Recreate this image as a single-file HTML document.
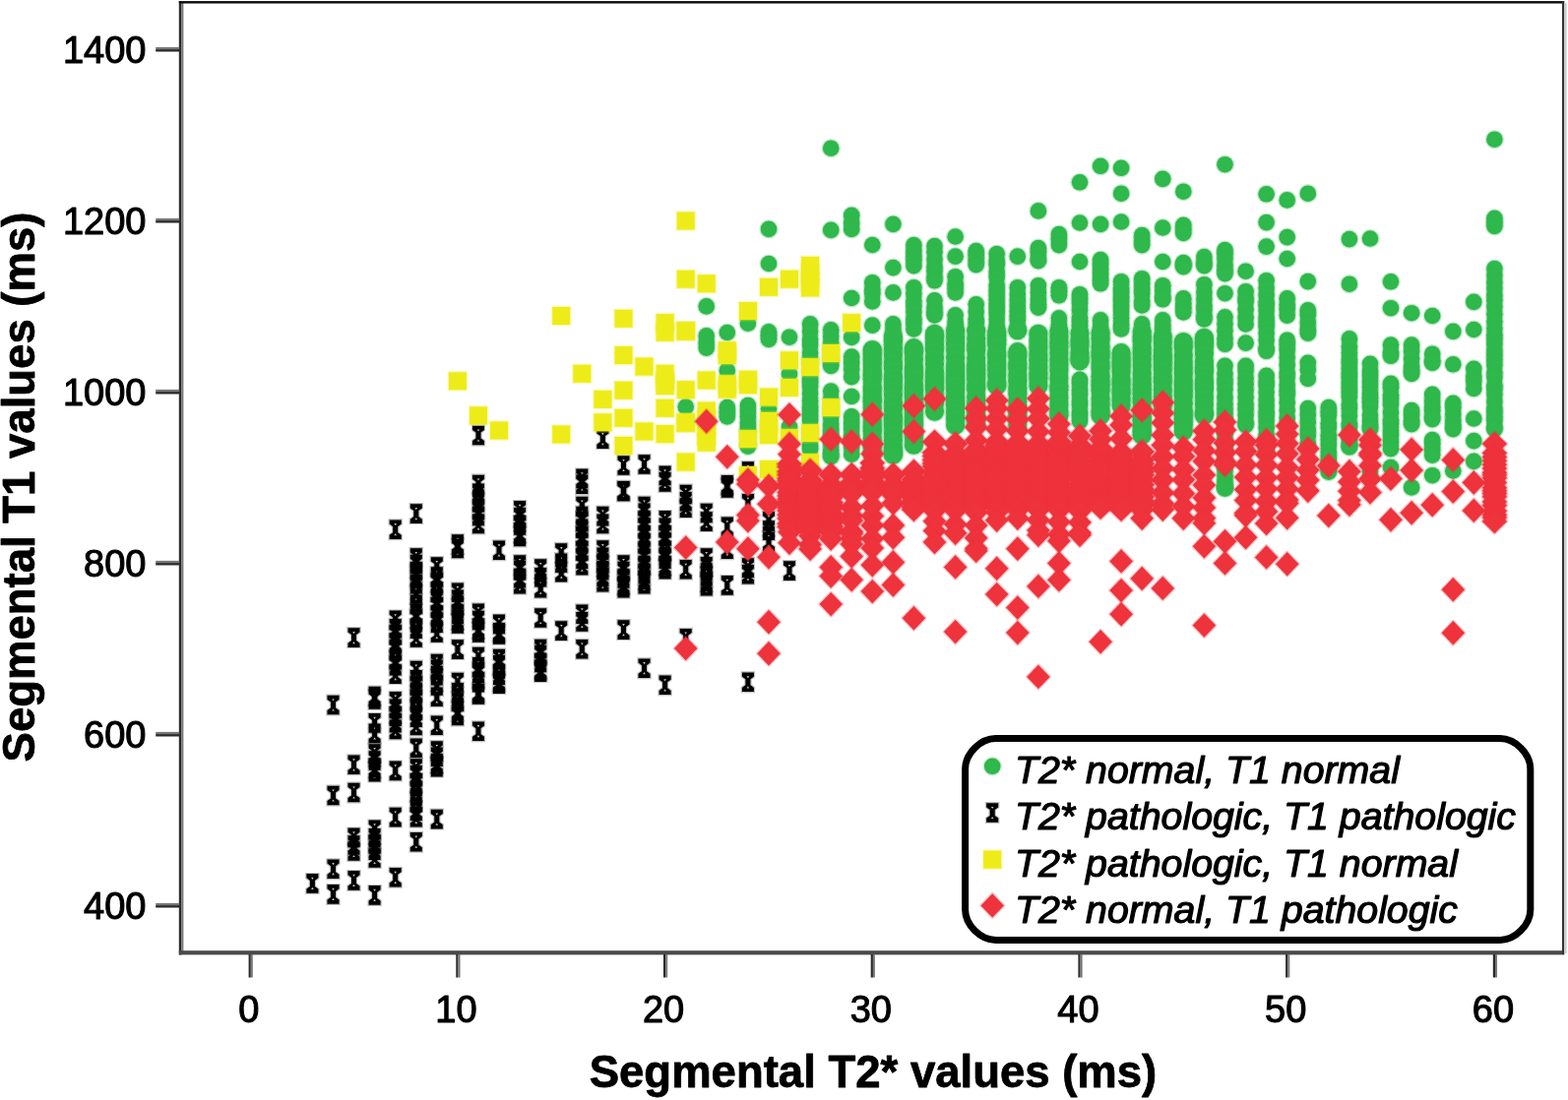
<!DOCTYPE html>
<html lang="en"><head><meta charset="utf-8"><title>Segmental T1 vs T2* values</title>
<style>html,body{margin:0;padding:0;background:#fff}body{width:1593px;height:1118px;overflow:hidden}svg{display:block}text{font-family:"Liberation Sans",Arial,Helvetica,sans-serif;fill:#000}text{stroke:#000;stroke-width:1.1px;stroke-linejoin:round}.tk{font-size:38px}.ax{font-size:45.5px;font-weight:bold;stroke-width:0.8px}.lg{font-size:39.3px;font-style:italic;stroke-width:1.2px}.g{fill:#2fb84b;stroke:#2fb84b}.y{fill:#eeec18;stroke:#eeec18}.r{fill:#ee333c;stroke:#ee333c}.g,.y,.r{stroke-width:2.6px;stroke-opacity:.3;stroke-linejoin:round}.k{fill:#000;fill-rule:evenodd;stroke:#000;stroke-width:2.4px;stroke-opacity:.25}</style></head><body>
<svg width="1593" height="1118" viewBox="0 0 1593 1118">
<rect width="1593" height="1118" fill="#fff"/>
<g class="g"><circle cx="696.7" cy="413.5" r="8.3"/><circle cx="717.7" cy="311.4" r="8.3"/><circle cx="717.7" cy="341.4" r="8.3"/><circle cx="717.7" cy="348.1" r="8.3"/><circle cx="717.7" cy="353.6" r="8.3"/><circle cx="738.8" cy="338" r="8.3"/><circle cx="738.8" cy="376.6" r="8.3"/><circle cx="738.8" cy="414" r="8.3"/><circle cx="738.8" cy="418.7" r="8.3"/><circle cx="738.8" cy="423.4" r="8.3"/><circle cx="759.9" cy="328.6" r="8.3"/><circle cx="759.9" cy="412.1" r="8.3"/><circle cx="759.9" cy="417.6" r="8.3"/><circle cx="759.9" cy="423.3" r="8.3"/><circle cx="759.9" cy="429.6" r="8.3"/><circle cx="759.9" cy="435" r="8.3"/><circle cx="759.9" cy="439.3" r="8.3"/><circle cx="759.9" cy="444.6" r="8.3"/><circle cx="759.9" cy="451.4" r="8.3"/><circle cx="759.9" cy="453.6" r="8.3"/><circle cx="781" cy="232.9" r="8.3"/><circle cx="781" cy="268" r="8.3"/><circle cx="781" cy="337.4" r="8.3"/><circle cx="781" cy="341.1" r="8.3"/><circle cx="781" cy="344.9" r="8.3"/><circle cx="781" cy="415.5" r="8.3"/><circle cx="802" cy="342.7" r="8.3"/><circle cx="802" cy="380" r="8.3"/><circle cx="802" cy="433.8" r="8.3"/><circle cx="823.1" cy="329.4" r="8.3"/><circle cx="823.1" cy="337.1" r="8.3"/><circle cx="823.1" cy="344.7" r="8.3"/><circle cx="823.1" cy="350.9" r="8.3"/><circle cx="823.1" cy="358.6" r="8.3"/><circle cx="823.1" cy="365.2" r="8.3"/><circle cx="823.1" cy="369.8" r="8.3"/><circle cx="823.1" cy="376.7" r="8.3"/><circle cx="823.1" cy="384.1" r="8.3"/><circle cx="823.1" cy="388.2" r="8.3"/><circle cx="823.1" cy="393" r="8.3"/><circle cx="823.1" cy="400.1" r="8.3"/><circle cx="823.1" cy="407.2" r="8.3"/><circle cx="823.1" cy="413.4" r="8.3"/><circle cx="823.1" cy="417.9" r="8.3"/><circle cx="823.1" cy="423" r="8.3"/><circle cx="823.1" cy="427.9" r="8.3"/><circle cx="823.1" cy="435.8" r="8.3"/><circle cx="823.1" cy="440.7" r="8.3"/><circle cx="823.1" cy="446.2" r="8.3"/><circle cx="823.1" cy="453" r="8.3"/><circle cx="823.1" cy="456.7" r="8.3"/><circle cx="844.2" cy="150.7" r="8.3"/><circle cx="844.2" cy="233.9" r="8.3"/><circle cx="844.2" cy="335.4" r="8.3"/><circle cx="844.2" cy="341.7" r="8.3"/><circle cx="844.2" cy="348.3" r="8.3"/><circle cx="844.2" cy="355.7" r="8.3"/><circle cx="844.2" cy="363.4" r="8.3"/><circle cx="844.2" cy="367.8" r="8.3"/><circle cx="844.2" cy="371.9" r="8.3"/><circle cx="844.2" cy="397.6" r="8.3"/><circle cx="844.2" cy="405.3" r="8.3"/><circle cx="844.2" cy="412.9" r="8.3"/><circle cx="844.2" cy="418.4" r="8.3"/><circle cx="844.2" cy="424" r="8.3"/><circle cx="844.2" cy="430.7" r="8.3"/><circle cx="844.2" cy="436.4" r="8.3"/><circle cx="844.2" cy="440.9" r="8.3"/><circle cx="844.2" cy="445.9" r="8.3"/><circle cx="844.2" cy="451.1" r="8.3"/><circle cx="844.2" cy="457.4" r="8.3"/><circle cx="844.2" cy="462" r="8.3"/><circle cx="844.2" cy="464.2" r="8.3"/><circle cx="865.2" cy="218.9" r="8.3"/><circle cx="865.2" cy="226.8" r="8.3"/><circle cx="865.2" cy="233" r="8.3"/><circle cx="865.2" cy="303" r="8.3"/><circle cx="865.2" cy="342.9" r="8.3"/><circle cx="865.2" cy="362.5" r="8.3"/><circle cx="865.2" cy="368.8" r="8.3"/><circle cx="865.2" cy="375.3" r="8.3"/><circle cx="865.2" cy="383.2" r="8.3"/><circle cx="865.2" cy="403" r="8.3"/><circle cx="865.2" cy="423.4" r="8.3"/><circle cx="865.2" cy="429.9" r="8.3"/><circle cx="865.2" cy="436" r="8.3"/><circle cx="865.2" cy="442.8" r="8.3"/><circle cx="865.2" cy="446.9" r="8.3"/><circle cx="865.2" cy="454.7" r="8.3"/><circle cx="865.2" cy="461.7" r="8.3"/><circle cx="886.3" cy="249" r="8.3"/><circle cx="886.3" cy="287.2" r="8.3"/><circle cx="886.3" cy="294" r="8.3"/><circle cx="886.3" cy="298.8" r="8.3"/><circle cx="886.3" cy="306.4" r="8.3"/><circle cx="886.3" cy="330.6" r="8.3"/><circle cx="886.3" cy="355.6" r="9.6"/><circle cx="886.3" cy="359.7" r="9.6"/><circle cx="886.3" cy="365.3" r="9.6"/><circle cx="886.3" cy="370.1" r="9.6"/><circle cx="886.3" cy="376.4" r="9.6"/><circle cx="886.3" cy="381.4" r="9.6"/><circle cx="886.3" cy="385.8" r="9.6"/><circle cx="886.3" cy="392.9" r="9.6"/><circle cx="886.3" cy="397.9" r="9.6"/><circle cx="886.3" cy="404.2" r="9.6"/><circle cx="886.3" cy="408.2" r="9.6"/><circle cx="886.3" cy="414.5" r="9.6"/><circle cx="886.3" cy="421.7" r="9.6"/><circle cx="886.3" cy="428.8" r="9.6"/><circle cx="886.3" cy="434.1" r="9.6"/><circle cx="886.3" cy="438.6" r="9.6"/><circle cx="886.3" cy="445.1" r="9.6"/><circle cx="886.3" cy="450.3" r="9.6"/><circle cx="886.3" cy="455.4" r="9.6"/><circle cx="886.3" cy="461.7" r="9.6"/><circle cx="907.4" cy="227.9" r="8.3"/><circle cx="907.4" cy="272.1" r="8.3"/><circle cx="907.4" cy="297.4" r="8.3"/><circle cx="907.4" cy="329.4" r="8.3"/><circle cx="907.4" cy="335" r="8.3"/><circle cx="907.4" cy="341.7" r="9.6"/><circle cx="907.4" cy="347.3" r="9.6"/><circle cx="907.4" cy="353.9" r="9.6"/><circle cx="907.4" cy="360.8" r="9.6"/><circle cx="907.4" cy="368" r="9.6"/><circle cx="907.4" cy="374.3" r="9.6"/><circle cx="907.4" cy="382.3" r="9.6"/><circle cx="907.4" cy="388.3" r="9.6"/><circle cx="907.4" cy="394.4" r="9.6"/><circle cx="907.4" cy="401.1" r="9.6"/><circle cx="907.4" cy="408.9" r="9.6"/><circle cx="907.4" cy="415.8" r="9.6"/><circle cx="907.4" cy="423.4" r="9.6"/><circle cx="907.4" cy="428.1" r="9.6"/><circle cx="907.4" cy="433.7" r="9.6"/><circle cx="907.4" cy="440.6" r="9.6"/><circle cx="907.4" cy="447.5" r="9.6"/><circle cx="907.4" cy="454.8" r="9.6"/><circle cx="907.4" cy="459.9" r="9.6"/><circle cx="907.4" cy="462.2" r="9.6"/><circle cx="928.4" cy="249" r="8.3"/><circle cx="928.4" cy="254.7" r="8.3"/><circle cx="928.4" cy="260.2" r="8.3"/><circle cx="928.4" cy="264.6" r="8.3"/><circle cx="928.4" cy="270.2" r="8.3"/><circle cx="928.4" cy="292.2" r="8.3"/><circle cx="928.4" cy="298.8" r="8.3"/><circle cx="928.4" cy="305.7" r="8.3"/><circle cx="928.4" cy="310.7" r="8.3"/><circle cx="928.4" cy="317.1" r="8.3"/><circle cx="928.4" cy="324.2" r="8.3"/><circle cx="928.4" cy="328.8" r="8.3"/><circle cx="928.4" cy="334.5" r="8.3"/><circle cx="928.4" cy="353.7" r="9.6"/><circle cx="928.4" cy="358.3" r="9.6"/><circle cx="928.4" cy="365.1" r="9.6"/><circle cx="928.4" cy="372.7" r="9.6"/><circle cx="928.4" cy="378.3" r="9.6"/><circle cx="928.4" cy="383.5" r="9.6"/><circle cx="928.4" cy="390" r="9.6"/><circle cx="928.4" cy="395.3" r="9.6"/><circle cx="928.4" cy="399.4" r="9.6"/><circle cx="928.4" cy="404.4" r="9.6"/><circle cx="928.4" cy="410.8" r="9.6"/><circle cx="928.4" cy="416.6" r="9.6"/><circle cx="928.4" cy="422" r="9.6"/><circle cx="928.4" cy="427.6" r="9.6"/><circle cx="928.4" cy="432.2" r="9.6"/><circle cx="928.4" cy="439.2" r="9.6"/><circle cx="928.4" cy="444.7" r="9.6"/><circle cx="928.4" cy="452.2" r="9.6"/><circle cx="949.5" cy="250" r="8.3"/><circle cx="949.5" cy="256.3" r="8.3"/><circle cx="949.5" cy="263.9" r="8.3"/><circle cx="949.5" cy="271.1" r="8.3"/><circle cx="949.5" cy="275.6" r="8.3"/><circle cx="949.5" cy="281.4" r="8.3"/><circle cx="949.5" cy="285.3" r="8.3"/><circle cx="949.5" cy="305.3" r="8.3"/><circle cx="949.5" cy="312.3" r="8.3"/><circle cx="949.5" cy="317.2" r="8.3"/><circle cx="949.5" cy="320.4" r="8.3"/><circle cx="949.5" cy="339.4" r="9.6"/><circle cx="949.5" cy="344.3" r="9.6"/><circle cx="949.5" cy="350.4" r="9.6"/><circle cx="949.5" cy="356.3" r="9.6"/><circle cx="949.5" cy="363.6" r="9.6"/><circle cx="949.5" cy="370" r="9.6"/><circle cx="949.5" cy="377.5" r="9.6"/><circle cx="949.5" cy="382.8" r="9.6"/><circle cx="949.5" cy="387.2" r="9.6"/><circle cx="949.5" cy="391.9" r="9.6"/><circle cx="949.5" cy="396.1" r="9.6"/><circle cx="949.5" cy="403" r="9.6"/><circle cx="949.5" cy="409.7" r="9.6"/><circle cx="949.5" cy="418.1" r="9.6"/><circle cx="970.6" cy="240.5" r="8.3"/><circle cx="970.6" cy="260.6" r="8.3"/><circle cx="970.6" cy="281.2" r="8.3"/><circle cx="970.6" cy="288.3" r="8.3"/><circle cx="970.6" cy="292.8" r="8.3"/><circle cx="970.6" cy="297.5" r="8.3"/><circle cx="970.6" cy="320.3" r="8.3"/><circle cx="970.6" cy="327" r="8.3"/><circle cx="970.6" cy="331" r="8.3"/><circle cx="970.6" cy="336.3" r="9.6"/><circle cx="970.6" cy="342.7" r="9.6"/><circle cx="970.6" cy="349.3" r="9.6"/><circle cx="970.6" cy="355.8" r="9.6"/><circle cx="970.6" cy="363.5" r="9.6"/><circle cx="970.6" cy="371.4" r="9.6"/><circle cx="970.6" cy="376.7" r="9.6"/><circle cx="970.6" cy="381.9" r="9.6"/><circle cx="970.6" cy="386" r="9.6"/><circle cx="970.6" cy="390.5" r="9.6"/><circle cx="970.6" cy="396.3" r="9.6"/><circle cx="970.6" cy="402.8" r="9.6"/><circle cx="970.6" cy="407.8" r="9.6"/><circle cx="970.6" cy="412.2" r="9.6"/><circle cx="970.6" cy="418.9" r="9.6"/><circle cx="970.6" cy="425.6" r="9.6"/><circle cx="970.6" cy="432.1" r="9.6"/><circle cx="991.7" cy="255.1" r="8.3"/><circle cx="991.7" cy="259.6" r="8.3"/><circle cx="991.7" cy="264.4" r="8.3"/><circle cx="991.7" cy="269.2" r="8.3"/><circle cx="991.7" cy="309.3" r="8.3"/><circle cx="991.7" cy="316.7" r="8.3"/><circle cx="991.7" cy="324.4" r="8.3"/><circle cx="991.7" cy="328.6" r="8.3"/><circle cx="991.7" cy="336.3" r="9.6"/><circle cx="991.7" cy="344" r="9.6"/><circle cx="991.7" cy="351.2" r="9.6"/><circle cx="991.7" cy="356.1" r="9.6"/><circle cx="991.7" cy="364" r="9.6"/><circle cx="991.7" cy="371.2" r="9.6"/><circle cx="991.7" cy="375.8" r="9.6"/><circle cx="991.7" cy="379.9" r="9.6"/><circle cx="991.7" cy="385.4" r="9.6"/><circle cx="991.7" cy="391.7" r="9.6"/><circle cx="991.7" cy="395.8" r="9.6"/><circle cx="991.7" cy="403.6" r="9.6"/><circle cx="991.7" cy="410.3" r="9.6"/><circle cx="991.7" cy="416.4" r="9.6"/><circle cx="991.7" cy="422.4" r="9.6"/><circle cx="991.7" cy="426.8" r="9.6"/><circle cx="991.7" cy="432.1" r="9.6"/><circle cx="1012.7" cy="258.1" r="8.3"/><circle cx="1012.7" cy="265" r="8.3"/><circle cx="1012.7" cy="269.1" r="8.3"/><circle cx="1012.7" cy="276.4" r="8.3"/><circle cx="1012.7" cy="281.8" r="8.3"/><circle cx="1012.7" cy="289.5" r="8.3"/><circle cx="1012.7" cy="294.9" r="8.3"/><circle cx="1012.7" cy="299.7" r="8.3"/><circle cx="1012.7" cy="304.5" r="8.3"/><circle cx="1012.7" cy="309.8" r="8.3"/><circle cx="1012.7" cy="314.1" r="8.3"/><circle cx="1012.7" cy="318.8" r="8.3"/><circle cx="1012.7" cy="324.6" r="8.3"/><circle cx="1012.7" cy="330.9" r="8.3"/><circle cx="1012.7" cy="337.1" r="9.6"/><circle cx="1012.7" cy="341.6" r="9.6"/><circle cx="1012.7" cy="345.7" r="9.6"/><circle cx="1012.7" cy="350.3" r="9.6"/><circle cx="1012.7" cy="357.9" r="9.6"/><circle cx="1012.7" cy="362.4" r="9.6"/><circle cx="1012.7" cy="369.2" r="9.6"/><circle cx="1012.7" cy="375.4" r="9.6"/><circle cx="1012.7" cy="381.8" r="9.6"/><circle cx="1012.7" cy="389.5" r="9.6"/><circle cx="1012.7" cy="391.9" r="9.6"/><circle cx="1033.8" cy="260.6" r="8.3"/><circle cx="1033.8" cy="292.2" r="8.3"/><circle cx="1033.8" cy="299" r="8.3"/><circle cx="1033.8" cy="305.1" r="8.3"/><circle cx="1033.8" cy="310.6" r="8.3"/><circle cx="1033.8" cy="316.2" r="8.3"/><circle cx="1033.8" cy="321" r="8.3"/><circle cx="1033.8" cy="325.4" r="8.3"/><circle cx="1033.8" cy="333.1" r="8.3"/><circle cx="1033.8" cy="335.7" r="9.6"/><circle cx="1033.8" cy="357.7" r="9.6"/><circle cx="1033.8" cy="362.4" r="9.6"/><circle cx="1033.8" cy="369.6" r="9.6"/><circle cx="1033.8" cy="374.3" r="9.6"/><circle cx="1033.8" cy="381" r="9.6"/><circle cx="1033.8" cy="387.3" r="9.6"/><circle cx="1033.8" cy="394.5" r="9.6"/><circle cx="1033.8" cy="400.2" r="9.6"/><circle cx="1033.8" cy="408" r="9.6"/><circle cx="1033.8" cy="414.9" r="9.6"/><circle cx="1033.8" cy="420.7" r="9.6"/><circle cx="1033.8" cy="425.2" r="9.6"/><circle cx="1033.8" cy="432.1" r="9.6"/><circle cx="1054.9" cy="214.4" r="8.3"/><circle cx="1054.9" cy="252" r="8.3"/><circle cx="1054.9" cy="256.6" r="8.3"/><circle cx="1054.9" cy="262.7" r="8.3"/><circle cx="1054.9" cy="265.2" r="8.3"/><circle cx="1054.9" cy="290.2" r="8.3"/><circle cx="1054.9" cy="297.2" r="8.3"/><circle cx="1054.9" cy="303.7" r="8.3"/><circle cx="1054.9" cy="309.4" r="8.3"/><circle cx="1054.9" cy="312.6" r="8.3"/><circle cx="1054.9" cy="339.4" r="9.6"/><circle cx="1054.9" cy="346.6" r="9.6"/><circle cx="1054.9" cy="353.3" r="9.6"/><circle cx="1054.9" cy="360" r="9.6"/><circle cx="1054.9" cy="366.2" r="9.6"/><circle cx="1054.9" cy="373.4" r="9.6"/><circle cx="1054.9" cy="379.7" r="9.6"/><circle cx="1054.9" cy="384.8" r="9.6"/><circle cx="1054.9" cy="391.9" r="9.6"/><circle cx="1075.9" cy="238" r="8.3"/><circle cx="1075.9" cy="243.2" r="8.3"/><circle cx="1075.9" cy="249.1" r="8.3"/><circle cx="1075.9" cy="292.2" r="8.3"/><circle cx="1075.9" cy="296.3" r="8.3"/><circle cx="1075.9" cy="300.3" r="8.3"/><circle cx="1075.9" cy="323.4" r="8.3"/><circle cx="1075.9" cy="330.2" r="8.3"/><circle cx="1075.9" cy="336.7" r="9.6"/><circle cx="1075.9" cy="342.5" r="9.6"/><circle cx="1075.9" cy="348.4" r="9.6"/><circle cx="1075.9" cy="352.8" r="9.6"/><circle cx="1075.9" cy="358.7" r="9.6"/><circle cx="1075.9" cy="365.1" r="9.6"/><circle cx="1075.9" cy="370.5" r="9.6"/><circle cx="1075.9" cy="376.5" r="9.6"/><circle cx="1075.9" cy="384.5" r="9.6"/><circle cx="1075.9" cy="392.1" r="9.6"/><circle cx="1075.9" cy="396.5" r="9.6"/><circle cx="1075.9" cy="404.2" r="9.6"/><circle cx="1075.9" cy="411.4" r="9.6"/><circle cx="1075.9" cy="418.7" r="9.6"/><circle cx="1075.9" cy="422.1" r="9.6"/><circle cx="1097" cy="185.3" r="8.3"/><circle cx="1097" cy="226.5" r="8.3"/><circle cx="1097" cy="266" r="8.3"/><circle cx="1097" cy="299.2" r="8.3"/><circle cx="1097" cy="304.1" r="8.3"/><circle cx="1097" cy="308.6" r="8.3"/><circle cx="1097" cy="315.2" r="8.3"/><circle cx="1097" cy="322.5" r="8.3"/><circle cx="1097" cy="326.9" r="8.3"/><circle cx="1097" cy="331" r="8.3"/><circle cx="1097" cy="338.7" r="9.6"/><circle cx="1097" cy="346.4" r="9.6"/><circle cx="1097" cy="351.4" r="9.6"/><circle cx="1097" cy="358.7" r="9.6"/><circle cx="1097" cy="363.9" r="9.6"/><circle cx="1097" cy="366.8" r="9.6"/><circle cx="1097" cy="385.8" r="8.3"/><circle cx="1097" cy="389.9" r="8.3"/><circle cx="1097" cy="396.3" r="8.3"/><circle cx="1097" cy="401.2" r="8.3"/><circle cx="1097" cy="407.8" r="8.3"/><circle cx="1097" cy="411.9" r="8.3"/><circle cx="1097" cy="418.5" r="8.3"/><circle cx="1097" cy="422.9" r="8.3"/><circle cx="1097" cy="428.1" r="8.3"/><circle cx="1118.1" cy="168.8" r="8.3"/><circle cx="1118.1" cy="227.9" r="8.3"/><circle cx="1118.1" cy="264.1" r="8.3"/><circle cx="1118.1" cy="268.4" r="8.3"/><circle cx="1118.1" cy="273.9" r="8.3"/><circle cx="1118.1" cy="278.5" r="8.3"/><circle cx="1118.1" cy="283.8" r="8.3"/><circle cx="1118.1" cy="288.3" r="8.3"/><circle cx="1118.1" cy="325.4" r="8.3"/><circle cx="1118.1" cy="332" r="8.3"/><circle cx="1118.1" cy="338.5" r="9.6"/><circle cx="1118.1" cy="344.6" r="9.6"/><circle cx="1118.1" cy="352" r="9.6"/><circle cx="1118.1" cy="357.7" r="9.6"/><circle cx="1118.1" cy="362.3" r="9.6"/><circle cx="1118.1" cy="369" r="9.6"/><circle cx="1118.1" cy="374.4" r="9.6"/><circle cx="1118.1" cy="382.2" r="9.6"/><circle cx="1118.1" cy="387.7" r="9.6"/><circle cx="1118.1" cy="391.8" r="9.6"/><circle cx="1118.1" cy="397.2" r="9.6"/><circle cx="1118.1" cy="405" r="9.6"/><circle cx="1118.1" cy="410.9" r="9.6"/><circle cx="1118.1" cy="418.2" r="9.6"/><circle cx="1118.1" cy="422.1" r="9.6"/><circle cx="1139.1" cy="170.8" r="8.3"/><circle cx="1139.1" cy="196.7" r="8.3"/><circle cx="1139.1" cy="225.5" r="8.3"/><circle cx="1139.1" cy="286.2" r="8.3"/><circle cx="1139.1" cy="292.6" r="8.3"/><circle cx="1139.1" cy="296.9" r="8.3"/><circle cx="1139.1" cy="301.7" r="8.3"/><circle cx="1139.1" cy="306.2" r="8.3"/><circle cx="1139.1" cy="311.8" r="8.3"/><circle cx="1139.1" cy="317.1" r="8.3"/><circle cx="1139.1" cy="323.3" r="8.3"/><circle cx="1139.1" cy="329.9" r="8.3"/><circle cx="1139.1" cy="334.5" r="8.3"/><circle cx="1139.1" cy="358.7" r="9.6"/><circle cx="1139.1" cy="363.8" r="9.6"/><circle cx="1139.1" cy="367.9" r="9.6"/><circle cx="1139.1" cy="372.4" r="9.6"/><circle cx="1139.1" cy="377.9" r="9.6"/><circle cx="1139.1" cy="385.5" r="9.6"/><circle cx="1139.1" cy="390.3" r="9.6"/><circle cx="1139.1" cy="395.9" r="9.6"/><circle cx="1139.1" cy="399.9" r="9.6"/><circle cx="1139.1" cy="406.3" r="9.6"/><circle cx="1139.1" cy="412" r="9.6"/><circle cx="1160.2" cy="239" r="8.3"/><circle cx="1160.2" cy="244.3" r="8.3"/><circle cx="1160.2" cy="249.1" r="8.3"/><circle cx="1160.2" cy="283.2" r="8.3"/><circle cx="1160.2" cy="288.3" r="8.3"/><circle cx="1160.2" cy="293.9" r="8.3"/><circle cx="1160.2" cy="298.6" r="8.3"/><circle cx="1160.2" cy="305.5" r="8.3"/><circle cx="1160.2" cy="310.4" r="8.3"/><circle cx="1160.2" cy="329.4" r="8.3"/><circle cx="1160.2" cy="337" r="9.6"/><circle cx="1160.2" cy="342.5" r="9.6"/><circle cx="1160.2" cy="346.5" r="9.6"/><circle cx="1160.2" cy="353.6" r="9.6"/><circle cx="1160.2" cy="359.4" r="9.6"/><circle cx="1160.2" cy="365.6" r="9.6"/><circle cx="1160.2" cy="372.2" r="9.6"/><circle cx="1160.2" cy="379.5" r="9.6"/><circle cx="1160.2" cy="385.6" r="9.6"/><circle cx="1160.2" cy="391.3" r="9.6"/><circle cx="1160.2" cy="395.8" r="9.6"/><circle cx="1160.2" cy="400" r="9.6"/><circle cx="1160.2" cy="404.7" r="9.6"/><circle cx="1160.2" cy="409.3" r="9.6"/><circle cx="1160.2" cy="417" r="9.6"/><circle cx="1160.2" cy="423.3" r="9.6"/><circle cx="1160.2" cy="427.4" r="9.6"/><circle cx="1160.2" cy="432.7" r="9.6"/><circle cx="1160.2" cy="438.3" r="9.6"/><circle cx="1160.2" cy="442.2" r="9.6"/><circle cx="1181.3" cy="181.9" r="8.3"/><circle cx="1181.3" cy="231.5" r="8.3"/><circle cx="1181.3" cy="266" r="8.3"/><circle cx="1181.3" cy="290.2" r="8.3"/><circle cx="1181.3" cy="295.9" r="8.3"/><circle cx="1181.3" cy="302" r="8.3"/><circle cx="1181.3" cy="304.3" r="8.3"/><circle cx="1181.3" cy="325.4" r="8.3"/><circle cx="1181.3" cy="330.7" r="8.3"/><circle cx="1181.3" cy="335" r="8.3"/><circle cx="1181.3" cy="342.1" r="9.6"/><circle cx="1181.3" cy="348.1" r="9.6"/><circle cx="1181.3" cy="355" r="9.6"/><circle cx="1181.3" cy="361.3" r="9.6"/><circle cx="1181.3" cy="365.6" r="9.6"/><circle cx="1181.3" cy="370.7" r="9.6"/><circle cx="1181.3" cy="376" r="9.6"/><circle cx="1181.3" cy="383.1" r="9.6"/><circle cx="1181.3" cy="388.5" r="9.6"/><circle cx="1181.3" cy="396.4" r="9.6"/><circle cx="1181.3" cy="403.6" r="9.6"/><circle cx="1181.3" cy="412" r="9.6"/><circle cx="1202.3" cy="194.7" r="8.3"/><circle cx="1202.3" cy="228.9" r="8.3"/><circle cx="1202.3" cy="233" r="8.3"/><circle cx="1202.3" cy="237" r="8.3"/><circle cx="1202.3" cy="267.1" r="8.3"/><circle cx="1202.3" cy="269.2" r="8.3"/><circle cx="1202.3" cy="271.2" r="8.3"/><circle cx="1202.3" cy="303.3" r="8.3"/><circle cx="1202.3" cy="308.6" r="8.3"/><circle cx="1202.3" cy="313" r="8.3"/><circle cx="1202.3" cy="317.4" r="8.3"/><circle cx="1202.3" cy="347.5" r="9.6"/><circle cx="1202.3" cy="353.3" r="9.6"/><circle cx="1202.3" cy="361.1" r="9.6"/><circle cx="1202.3" cy="368.1" r="9.6"/><circle cx="1202.3" cy="374.4" r="9.6"/><circle cx="1202.3" cy="380.1" r="9.6"/><circle cx="1202.3" cy="386.8" r="9.6"/><circle cx="1202.3" cy="391.8" r="9.6"/><circle cx="1202.3" cy="397.2" r="9.6"/><circle cx="1202.3" cy="402.5" r="9.6"/><circle cx="1202.3" cy="409.7" r="9.6"/><circle cx="1202.3" cy="417.5" r="9.6"/><circle cx="1202.3" cy="421.9" r="9.6"/><circle cx="1202.3" cy="426" r="9.6"/><circle cx="1202.3" cy="431.4" r="9.6"/><circle cx="1202.3" cy="438.1" r="9.6"/><circle cx="1223.4" cy="261.1" r="8.3"/><circle cx="1223.4" cy="266.8" r="8.3"/><circle cx="1223.4" cy="270.2" r="8.3"/><circle cx="1223.4" cy="289.2" r="8.3"/><circle cx="1223.4" cy="297.1" r="8.3"/><circle cx="1223.4" cy="303.7" r="8.3"/><circle cx="1223.4" cy="310.4" r="8.3"/><circle cx="1223.4" cy="315" r="8.3"/><circle cx="1223.4" cy="321.3" r="8.3"/><circle cx="1223.4" cy="324.4" r="8.3"/><circle cx="1223.4" cy="343.4" r="9.6"/><circle cx="1223.4" cy="348.2" r="9.6"/><circle cx="1223.4" cy="352.3" r="9.6"/><circle cx="1223.4" cy="359" r="9.6"/><circle cx="1223.4" cy="367" r="9.6"/><circle cx="1223.4" cy="373.6" r="9.6"/><circle cx="1223.4" cy="378.4" r="9.6"/><circle cx="1223.4" cy="385.9" r="9.6"/><circle cx="1223.4" cy="391.2" r="9.6"/><circle cx="1223.4" cy="396.5" r="9.6"/><circle cx="1223.4" cy="403.8" r="9.6"/><circle cx="1223.4" cy="410.9" r="9.6"/><circle cx="1223.4" cy="418.7" r="9.6"/><circle cx="1223.4" cy="422.1" r="9.6"/><circle cx="1244.5" cy="167.2" r="8.3"/><circle cx="1244.5" cy="254" r="8.3"/><circle cx="1244.5" cy="258.1" r="8.3"/><circle cx="1244.5" cy="263" r="8.3"/><circle cx="1244.5" cy="269.3" r="8.3"/><circle cx="1244.5" cy="274.2" r="8.3"/><circle cx="1244.5" cy="278.2" r="8.3"/><circle cx="1244.5" cy="298.2" r="8.3"/><circle cx="1244.5" cy="322.3" r="8.3"/><circle cx="1244.5" cy="329.3" r="8.3"/><circle cx="1244.5" cy="336.3" r="8.3"/><circle cx="1244.5" cy="344.1" r="8.3"/><circle cx="1244.5" cy="349.8" r="8.3"/><circle cx="1244.5" cy="371.8" r="8.3"/><circle cx="1244.5" cy="379.6" r="8.3"/><circle cx="1244.5" cy="385.5" r="8.3"/><circle cx="1244.5" cy="390" r="8.3"/><circle cx="1244.5" cy="396.1" r="8.3"/><circle cx="1244.5" cy="403.9" r="8.3"/><circle cx="1244.5" cy="410.4" r="8.3"/><circle cx="1244.5" cy="415.6" r="8.3"/><circle cx="1244.5" cy="420" r="8.3"/><circle cx="1244.5" cy="424.6" r="8.3"/><circle cx="1244.5" cy="429.1" r="8.3"/><circle cx="1244.5" cy="435.9" r="8.3"/><circle cx="1244.5" cy="441.2" r="8.3"/><circle cx="1244.5" cy="447" r="8.3"/><circle cx="1244.5" cy="454.9" r="8.3"/><circle cx="1244.5" cy="460.2" r="8.3"/><circle cx="1244.5" cy="466.8" r="8.3"/><circle cx="1244.5" cy="472.2" r="8.3"/><circle cx="1244.5" cy="477.7" r="8.3"/><circle cx="1244.5" cy="483.5" r="8.3"/><circle cx="1244.5" cy="489.2" r="8.3"/><circle cx="1244.5" cy="493.7" r="8.3"/><circle cx="1244.5" cy="496" r="8.3"/><circle cx="1244.5" cy="496.4" r="8.3"/><circle cx="1265.6" cy="275.7" r="8.3"/><circle cx="1265.6" cy="296.2" r="8.3"/><circle cx="1265.6" cy="302.5" r="8.3"/><circle cx="1265.6" cy="306.9" r="8.3"/><circle cx="1265.6" cy="314.8" r="8.3"/><circle cx="1265.6" cy="322.8" r="8.3"/><circle cx="1265.6" cy="329.5" r="8.3"/><circle cx="1265.6" cy="348.6" r="8.3"/><circle cx="1265.6" cy="371.8" r="8.3"/><circle cx="1265.6" cy="377.1" r="8.3"/><circle cx="1265.6" cy="384.3" r="8.3"/><circle cx="1265.6" cy="390.3" r="8.3"/><circle cx="1265.6" cy="396.6" r="8.3"/><circle cx="1265.6" cy="403.6" r="8.3"/><circle cx="1265.6" cy="410.6" r="8.3"/><circle cx="1265.6" cy="415.7" r="8.3"/><circle cx="1265.6" cy="421.6" r="8.3"/><circle cx="1265.6" cy="428.9" r="8.3"/><circle cx="1265.6" cy="432.1" r="8.3"/><circle cx="1286.6" cy="197.3" r="8.3"/><circle cx="1286.6" cy="226.1" r="8.3"/><circle cx="1286.6" cy="250.6" r="8.3"/><circle cx="1286.6" cy="285.2" r="8.3"/><circle cx="1286.6" cy="292.6" r="8.3"/><circle cx="1286.6" cy="299.8" r="8.3"/><circle cx="1286.6" cy="306.5" r="8.3"/><circle cx="1286.6" cy="310.6" r="8.3"/><circle cx="1286.6" cy="316" r="8.3"/><circle cx="1286.6" cy="322.9" r="8.3"/><circle cx="1286.6" cy="327.9" r="8.3"/><circle cx="1286.6" cy="332.1" r="8.3"/><circle cx="1286.6" cy="338.5" r="8.3"/><circle cx="1286.6" cy="345.6" r="8.3"/><circle cx="1286.6" cy="353.5" r="8.3"/><circle cx="1286.6" cy="356.8" r="8.3"/><circle cx="1286.6" cy="381.8" r="8.3"/><circle cx="1286.6" cy="387.6" r="8.3"/><circle cx="1286.6" cy="391.7" r="8.3"/><circle cx="1286.6" cy="398.5" r="8.3"/><circle cx="1286.6" cy="406" r="8.3"/><circle cx="1286.6" cy="412.1" r="8.3"/><circle cx="1286.6" cy="418.4" r="8.3"/><circle cx="1286.6" cy="422.7" r="8.3"/><circle cx="1286.6" cy="428" r="8.3"/><circle cx="1286.6" cy="434.4" r="8.3"/><circle cx="1286.6" cy="441.6" r="8.3"/><circle cx="1286.6" cy="446.9" r="8.3"/><circle cx="1286.6" cy="454.2" r="8.3"/><circle cx="1286.6" cy="458.2" r="8.3"/><circle cx="1307.7" cy="203.4" r="8.3"/><circle cx="1307.7" cy="241.1" r="8.3"/><circle cx="1307.7" cy="263" r="8.3"/><circle cx="1307.7" cy="303.3" r="8.3"/><circle cx="1307.7" cy="309.5" r="8.3"/><circle cx="1307.7" cy="314.3" r="8.3"/><circle cx="1307.7" cy="320.6" r="8.3"/><circle cx="1307.7" cy="345.7" r="8.3"/><circle cx="1307.7" cy="350.2" r="8.3"/><circle cx="1307.7" cy="355.9" r="8.3"/><circle cx="1307.7" cy="363.4" r="8.3"/><circle cx="1307.7" cy="370.9" r="8.3"/><circle cx="1307.7" cy="378.7" r="8.3"/><circle cx="1307.7" cy="383.5" r="8.3"/><circle cx="1307.7" cy="391.1" r="8.3"/><circle cx="1307.7" cy="397" r="8.3"/><circle cx="1307.7" cy="401.6" r="8.3"/><circle cx="1307.7" cy="409.2" r="8.3"/><circle cx="1307.7" cy="417" r="8.3"/><circle cx="1307.7" cy="424.9" r="8.3"/><circle cx="1307.7" cy="432.1" r="8.3"/><circle cx="1328.8" cy="196.7" r="8.3"/><circle cx="1328.8" cy="286.1" r="8.3"/><circle cx="1328.8" cy="315.3" r="8.3"/><circle cx="1328.8" cy="320.2" r="8.3"/><circle cx="1328.8" cy="327.9" r="8.3"/><circle cx="1328.8" cy="334.8" r="8.3"/><circle cx="1328.8" cy="338.7" r="8.3"/><circle cx="1328.8" cy="368.8" r="8.3"/><circle cx="1328.8" cy="375.7" r="8.3"/><circle cx="1328.8" cy="384.9" r="8.3"/><circle cx="1328.8" cy="415" r="8.3"/><circle cx="1328.8" cy="421.9" r="8.3"/><circle cx="1328.8" cy="429.2" r="8.3"/><circle cx="1328.8" cy="436.9" r="8.3"/><circle cx="1328.8" cy="442.6" r="8.3"/><circle cx="1328.8" cy="450.3" r="8.3"/><circle cx="1328.8" cy="456.2" r="8.3"/><circle cx="1349.8" cy="414" r="8.3"/><circle cx="1349.8" cy="418.5" r="8.3"/><circle cx="1349.8" cy="422.5" r="8.3"/><circle cx="1349.8" cy="430.3" r="8.3"/><circle cx="1349.8" cy="435.1" r="8.3"/><circle cx="1349.8" cy="442.3" r="8.3"/><circle cx="1349.8" cy="447" r="8.3"/><circle cx="1349.8" cy="452.8" r="8.3"/><circle cx="1349.8" cy="459" r="8.3"/><circle cx="1349.8" cy="463.7" r="8.3"/><circle cx="1349.8" cy="468.8" r="8.3"/><circle cx="1349.8" cy="473.4" r="8.3"/><circle cx="1349.8" cy="477.4" r="8.3"/><circle cx="1349.8" cy="479.7" r="8.3"/><circle cx="1370.9" cy="243.1" r="8.3"/><circle cx="1370.9" cy="288.7" r="8.3"/><circle cx="1370.9" cy="344.4" r="8.3"/><circle cx="1370.9" cy="352.3" r="8.3"/><circle cx="1370.9" cy="358.5" r="8.3"/><circle cx="1370.9" cy="365" r="8.3"/><circle cx="1370.9" cy="369.1" r="8.3"/><circle cx="1370.9" cy="374.4" r="8.3"/><circle cx="1370.9" cy="379.5" r="8.3"/><circle cx="1370.9" cy="383.6" r="8.3"/><circle cx="1370.9" cy="388.8" r="8.3"/><circle cx="1370.9" cy="393.8" r="8.3"/><circle cx="1370.9" cy="398.3" r="8.3"/><circle cx="1370.9" cy="403.3" r="8.3"/><circle cx="1370.9" cy="410.7" r="8.3"/><circle cx="1370.9" cy="415.6" r="8.3"/><circle cx="1370.9" cy="422.4" r="8.3"/><circle cx="1370.9" cy="430.4" r="8.3"/><circle cx="1370.9" cy="434.4" r="8.3"/><circle cx="1370.9" cy="441.3" r="8.3"/><circle cx="1370.9" cy="445.8" r="8.3"/><circle cx="1370.9" cy="450.5" r="8.3"/><circle cx="1370.9" cy="453.7" r="8.3"/><circle cx="1370.9" cy="454.2" r="8.3"/><circle cx="1392" cy="242.5" r="8.3"/><circle cx="1392" cy="369.8" r="8.3"/><circle cx="1392" cy="377.1" r="8.3"/><circle cx="1392" cy="382" r="8.3"/><circle cx="1392" cy="387.7" r="8.3"/><circle cx="1392" cy="393.3" r="8.3"/><circle cx="1392" cy="399.4" r="8.3"/><circle cx="1392" cy="404.2" r="8.3"/><circle cx="1392" cy="408.4" r="8.3"/><circle cx="1392" cy="413.7" r="8.3"/><circle cx="1392" cy="421.7" r="8.3"/><circle cx="1392" cy="428" r="8.3"/><circle cx="1392" cy="433.8" r="8.3"/><circle cx="1392" cy="436.1" r="8.3"/><circle cx="1392" cy="479.5" r="8.3"/><circle cx="1413" cy="286.3" r="8.3"/><circle cx="1413" cy="313.2" r="8.3"/><circle cx="1413" cy="350.5" r="8.3"/><circle cx="1413" cy="358.1" r="8.3"/><circle cx="1413" cy="361.8" r="8.3"/><circle cx="1413" cy="389.9" r="8.3"/><circle cx="1413" cy="394.2" r="8.3"/><circle cx="1413" cy="401.4" r="8.3"/><circle cx="1413" cy="405.7" r="8.3"/><circle cx="1413" cy="411.2" r="8.3"/><circle cx="1413" cy="419.2" r="8.3"/><circle cx="1413" cy="426.7" r="8.3"/><circle cx="1413" cy="431.1" r="8.3"/><circle cx="1413" cy="437.4" r="8.3"/><circle cx="1413" cy="443.1" r="8.3"/><circle cx="1413" cy="449.8" r="8.3"/><circle cx="1413" cy="456.2" r="8.3"/><circle cx="1413" cy="475" r="8.3"/><circle cx="1434.1" cy="318.2" r="8.3"/><circle cx="1434.1" cy="350.5" r="8.3"/><circle cx="1434.1" cy="356.7" r="8.3"/><circle cx="1434.1" cy="364.4" r="8.3"/><circle cx="1434.1" cy="372" r="8.3"/><circle cx="1434.1" cy="376.7" r="8.3"/><circle cx="1434.1" cy="379.9" r="8.3"/><circle cx="1434.1" cy="417" r="8.3"/><circle cx="1434.1" cy="421.8" r="8.3"/><circle cx="1434.1" cy="427.8" r="8.3"/><circle cx="1434.1" cy="431.1" r="8.3"/><circle cx="1434.1" cy="495.4" r="8.3"/><circle cx="1455.2" cy="321" r="8.3"/><circle cx="1455.2" cy="359.7" r="8.3"/><circle cx="1455.2" cy="366.6" r="8.3"/><circle cx="1455.2" cy="368.8" r="8.3"/><circle cx="1455.2" cy="400.9" r="8.3"/><circle cx="1455.2" cy="407.4" r="8.3"/><circle cx="1455.2" cy="413.4" r="8.3"/><circle cx="1455.2" cy="417.6" r="8.3"/><circle cx="1455.2" cy="423.6" r="8.3"/><circle cx="1455.2" cy="426.1" r="8.3"/><circle cx="1455.2" cy="447.1" r="8.3"/><circle cx="1455.2" cy="451.1" r="8.3"/><circle cx="1455.2" cy="456.9" r="8.3"/><circle cx="1455.2" cy="462.6" r="8.3"/><circle cx="1455.2" cy="483.2" r="8.3"/><circle cx="1476.3" cy="336.9" r="8.3"/><circle cx="1476.3" cy="370.3" r="8.3"/><circle cx="1476.3" cy="409.9" r="8.3"/><circle cx="1476.3" cy="414.4" r="8.3"/><circle cx="1476.3" cy="421.1" r="8.3"/><circle cx="1476.3" cy="427.3" r="8.3"/><circle cx="1476.3" cy="432.9" r="8.3"/><circle cx="1476.3" cy="436.1" r="8.3"/><circle cx="1476.3" cy="478.5" r="8.3"/><circle cx="1497.3" cy="306.9" r="8.3"/><circle cx="1497.3" cy="335" r="8.3"/><circle cx="1497.3" cy="374.8" r="8.3"/><circle cx="1497.3" cy="382.3" r="8.3"/><circle cx="1497.3" cy="387.8" r="8.3"/><circle cx="1497.3" cy="395" r="8.3"/><circle cx="1497.3" cy="425.5" r="8.3"/><circle cx="1497.3" cy="448.1" r="8.3"/><circle cx="1497.3" cy="468.9" r="8.3"/><circle cx="1518.4" cy="141.7" r="8.3"/><circle cx="1518.4" cy="221.9" r="8.3"/><circle cx="1518.4" cy="226" r="8.3"/><circle cx="1518.4" cy="230" r="8.3"/><circle cx="1518.4" cy="273.1" r="8.3"/><circle cx="1518.4" cy="280.1" r="8.3"/><circle cx="1518.4" cy="286.7" r="8.3"/><circle cx="1518.4" cy="293.1" r="8.3"/><circle cx="1518.4" cy="299.7" r="8.3"/><circle cx="1518.4" cy="305.3" r="8.3"/><circle cx="1518.4" cy="311.9" r="8.3"/><circle cx="1518.4" cy="319.3" r="8.3"/><circle cx="1518.4" cy="326.7" r="8.3"/><circle cx="1518.4" cy="333.6" r="8.3"/><circle cx="1518.4" cy="340.3" r="8.3"/><circle cx="1518.4" cy="344.6" r="8.3"/><circle cx="1518.4" cy="349.9" r="8.3"/><circle cx="1518.4" cy="355.7" r="8.3"/><circle cx="1518.4" cy="360.9" r="8.3"/><circle cx="1518.4" cy="365.7" r="8.3"/><circle cx="1518.4" cy="371.2" r="8.3"/><circle cx="1518.4" cy="378.6" r="8.3"/><circle cx="1518.4" cy="383.6" r="8.3"/><circle cx="1518.4" cy="391.4" r="8.3"/><circle cx="1518.4" cy="395.4" r="8.3"/><circle cx="1518.4" cy="401.1" r="8.3"/><circle cx="1518.4" cy="408" r="8.3"/><circle cx="1518.4" cy="415" r="8.3"/><circle cx="1518.4" cy="419" r="8.3"/><circle cx="1518.4" cy="423.5" r="8.3"/><circle cx="1518.4" cy="427.8" r="8.3"/><circle cx="1518.4" cy="434.1" r="8.3"/><circle cx="1518.4" cy="436.1" r="8.3"/></g>
<g class="k"><path d="M311.4 888.1h12v4.2l-3.5 2.6v6l3.5 2.6v4.2h-12v-4.2l3.5-2.6v-6l-3.5-2.6zM316.1 891.8h2.6l-1.3 2.2zM316.1 904h2.6l-1.3-2.2z"/><path d="M332.5 706.7h12v4.2l-3.5 2.6v6l3.5 2.6v4.2h-12v-4.2l3.5-2.6v-6l-3.5-2.6zM337.2 710.4h2.6l-1.3 2.2zM337.2 722.6h2.6l-1.3-2.2z"/><path d="M332.5 798.7h12v4.2l-3.5 2.6v6l3.5 2.6v4.2h-12v-4.2l3.5-2.6v-6l-3.5-2.6zM337.2 802.4h2.6l-1.3 2.2zM337.2 814.6h2.6l-1.3-2.2z"/><path d="M332.5 873.4h12v4.2l-3.5 2.6v6l3.5 2.6v4.2h-12v-4.2l3.5-2.6v-6l-3.5-2.6zM337.2 877.1h2.6l-1.3 2.2zM337.2 889.3h2.6l-1.3-2.2z"/><path d="M332.5 899.1h12v4.2l-3.5 2.6v6l3.5 2.6v4.2h-12v-4.2l3.5-2.6v-6l-3.5-2.6zM337.2 902.8h2.6l-1.3 2.2zM337.2 915h2.6l-1.3-2.2z"/><path d="M353.5 638.3h12v4.2l-3.5 2.6v6l3.5 2.6v4.2h-12v-4.2l3.5-2.6v-6l-3.5-2.6zM358.2 642h2.6l-1.3 2.2zM358.2 654.2h2.6l-1.3-2.2z"/><path d="M353.5 767.5h12v4.2l-3.5 2.6v6l3.5 2.6v4.2h-12v-4.2l3.5-2.6v-6l-3.5-2.6zM358.2 771.2h2.6l-1.3 2.2zM358.2 783.4h2.6l-1.3-2.2z"/><path d="M353.5 795.7h12v4.2l-3.5 2.6v6l3.5 2.6v4.2h-12v-4.2l3.5-2.6v-6l-3.5-2.6zM358.2 799.4h2.6l-1.3 2.2zM358.2 811.6h2.6l-1.3-2.2z"/><path d="M353.5 841.6h12v4.2l-3.5 2.6v6l3.5 2.6v4.2h-12v-4.2l3.5-2.6v-6l-3.5-2.6zM358.2 845.3h2.6l-1.3 2.2zM358.2 857.5h2.6l-1.3-2.2z"/><path d="M353.5 849.2h12v4.2l-3.5 2.6v6l3.5 2.6v4.2h-12v-4.2l3.5-2.6v-6l-3.5-2.6zM358.2 852.9h2.6l-1.3 2.2zM358.2 865.1h2.6l-1.3-2.2z"/><path d="M353.5 855.2h12v4.2l-3.5 2.6v6l3.5 2.6v4.2h-12v-4.2l3.5-2.6v-6l-3.5-2.6zM358.2 858.9h2.6l-1.3 2.2zM358.2 871.1h2.6l-1.3-2.2z"/><path d="M353.5 885.1h12v4.2l-3.5 2.6v6l3.5 2.6v4.2h-12v-4.2l3.5-2.6v-6l-3.5-2.6zM358.2 888.8h2.6l-1.3 2.2zM358.2 901h2.6l-1.3-2.2z"/><path d="M374.6 697.7h12v4.2l-3.5 2.6v6l3.5 2.6v4.2h-12v-4.2l3.5-2.6v-6l-3.5-2.6zM379.3 701.4h2.6l-1.3 2.2zM379.3 713.6h2.6l-1.3-2.2z"/><path d="M374.6 701.2h12v4.2l-3.5 2.6v6l3.5 2.6v4.2h-12v-4.2l3.5-2.6v-6l-3.5-2.6zM379.3 704.9h2.6l-1.3 2.2zM379.3 717.1h2.6l-1.3-2.2z"/><path d="M374.6 725.1h12v4.2l-3.5 2.6v6l3.5 2.6v4.2h-12v-4.2l3.5-2.6v-6l-3.5-2.6zM379.3 728.8h2.6l-1.3 2.2zM379.3 741h2.6l-1.3-2.2z"/><path d="M374.6 735.6h12v4.2l-3.5 2.6v6l3.5 2.6v4.2h-12v-4.2l3.5-2.6v-6l-3.5-2.6zM379.3 739.3h2.6l-1.3 2.2zM379.3 751.5h2.6l-1.3-2.2z"/><path d="M374.6 756.2h12v4.2l-3.5 2.6v6l3.5 2.6v4.2h-12v-4.2l3.5-2.6v-6l-3.5-2.6zM379.3 759.9h2.6l-1.3 2.2zM379.3 772.1h2.6l-1.3-2.2z"/><path d="M374.6 763.2h12v4.2l-3.5 2.6v6l3.5 2.6v4.2h-12v-4.2l3.5-2.6v-6l-3.5-2.6zM379.3 766.9h2.6l-1.3 2.2zM379.3 779.1h2.6l-1.3-2.2z"/><path d="M374.6 770.6h12v4.2l-3.5 2.6v6l3.5 2.6v4.2h-12v-4.2l3.5-2.6v-6l-3.5-2.6zM379.3 774.3h2.6l-1.3 2.2zM379.3 786.5h2.6l-1.3-2.2z"/><path d="M374.6 774.8h12v4.2l-3.5 2.6v6l3.5 2.6v4.2h-12v-4.2l3.5-2.6v-6l-3.5-2.6zM379.3 778.5h2.6l-1.3 2.2zM379.3 790.7h2.6l-1.3-2.2z"/><path d="M374.6 833.6h12v4.2l-3.5 2.6v6l3.5 2.6v4.2h-12v-4.2l3.5-2.6v-6l-3.5-2.6zM379.3 837.3h2.6l-1.3 2.2zM379.3 849.5h2.6l-1.3-2.2z"/><path d="M374.6 841.9h12v4.2l-3.5 2.6v6l3.5 2.6v4.2h-12v-4.2l3.5-2.6v-6l-3.5-2.6zM379.3 845.6h2.6l-1.3 2.2zM379.3 857.8h2.6l-1.3-2.2z"/><path d="M374.6 848.2h12v4.2l-3.5 2.6v6l3.5 2.6v4.2h-12v-4.2l3.5-2.6v-6l-3.5-2.6zM379.3 851.9h2.6l-1.3 2.2zM379.3 864.1h2.6l-1.3-2.2z"/><path d="M374.6 854.3h12v4.2l-3.5 2.6v6l3.5 2.6v4.2h-12v-4.2l3.5-2.6v-6l-3.5-2.6zM379.3 858h2.6l-1.3 2.2zM379.3 870.2h2.6l-1.3-2.2z"/><path d="M374.6 862.2h12v4.2l-3.5 2.6v6l3.5 2.6v4.2h-12v-4.2l3.5-2.6v-6l-3.5-2.6zM379.3 865.9h2.6l-1.3 2.2zM379.3 878.1h2.6l-1.3-2.2z"/><path d="M374.6 900.1h12v4.2l-3.5 2.6v6l3.5 2.6v4.2h-12v-4.2l3.5-2.6v-6l-3.5-2.6zM379.3 903.8h2.6l-1.3 2.2zM379.3 916h2.6l-1.3-2.2z"/><path d="M395.7 528.4h12v4.2l-3.5 2.6v6l3.5 2.6v4.2h-12v-4.2l3.5-2.6v-6l-3.5-2.6zM400.4 532.1h2.6l-1.3 2.2zM400.4 544.3h2.6l-1.3-2.2z"/><path d="M395.7 620.6h12v4.2l-3.5 2.6v6l3.5 2.6v4.2h-12v-4.2l3.5-2.6v-6l-3.5-2.6zM400.4 624.3h2.6l-1.3 2.2zM400.4 636.5h2.6l-1.3-2.2z"/><path d="M395.7 628.9h12v4.2l-3.5 2.6v6l3.5 2.6v4.2h-12v-4.2l3.5-2.6v-6l-3.5-2.6zM400.4 632.6h2.6l-1.3 2.2zM400.4 644.8h2.6l-1.3-2.2z"/><path d="M395.7 635.3h12v4.2l-3.5 2.6v6l3.5 2.6v4.2h-12v-4.2l3.5-2.6v-6l-3.5-2.6zM400.4 639h2.6l-1.3 2.2zM400.4 651.2h2.6l-1.3-2.2z"/><path d="M395.7 643.5h12v4.2l-3.5 2.6v6l3.5 2.6v4.2h-12v-4.2l3.5-2.6v-6l-3.5-2.6zM400.4 647.2h2.6l-1.3 2.2zM400.4 659.4h2.6l-1.3-2.2z"/><path d="M395.7 650.8h12v4.2l-3.5 2.6v6l3.5 2.6v4.2h-12v-4.2l3.5-2.6v-6l-3.5-2.6zM400.4 654.5h2.6l-1.3 2.2zM400.4 666.7h2.6l-1.3-2.2z"/><path d="M395.7 661.1h12v4.2l-3.5 2.6v6l3.5 2.6v4.2h-12v-4.2l3.5-2.6v-6l-3.5-2.6zM400.4 664.8h2.6l-1.3 2.2zM400.4 677h2.6l-1.3-2.2z"/><path d="M395.7 667h12v4.2l-3.5 2.6v6l3.5 2.6v4.2h-12v-4.2l3.5-2.6v-6l-3.5-2.6zM400.4 670.7h2.6l-1.3 2.2zM400.4 682.9h2.6l-1.3-2.2z"/><path d="M395.7 675.3h12v4.2l-3.5 2.6v6l3.5 2.6v4.2h-12v-4.2l3.5-2.6v-6l-3.5-2.6zM400.4 679h2.6l-1.3 2.2zM400.4 691.2h2.6l-1.3-2.2z"/><path d="M395.7 702.9h12v4.2l-3.5 2.6v6l3.5 2.6v4.2h-12v-4.2l3.5-2.6v-6l-3.5-2.6zM400.4 706.6h2.6l-1.3 2.2zM400.4 718.8h2.6l-1.3-2.2z"/><path d="M395.7 710.5h12v4.2l-3.5 2.6v6l3.5 2.6v4.2h-12v-4.2l3.5-2.6v-6l-3.5-2.6zM400.4 714.2h2.6l-1.3 2.2zM400.4 726.4h2.6l-1.3-2.2z"/><path d="M395.7 718.5h12v4.2l-3.5 2.6v6l3.5 2.6v4.2h-12v-4.2l3.5-2.6v-6l-3.5-2.6zM400.4 722.2h2.6l-1.3 2.2zM400.4 734.4h2.6l-1.3-2.2z"/><path d="M395.7 724.8h12v4.2l-3.5 2.6v6l3.5 2.6v4.2h-12v-4.2l3.5-2.6v-6l-3.5-2.6zM400.4 728.5h2.6l-1.3 2.2zM400.4 740.7h2.6l-1.3-2.2z"/><path d="M395.7 731.6h12v4.2l-3.5 2.6v6l3.5 2.6v4.2h-12v-4.2l3.5-2.6v-6l-3.5-2.6zM400.4 735.3h2.6l-1.3 2.2zM400.4 747.5h2.6l-1.3-2.2z"/><path d="M395.7 773.6h12v4.2l-3.5 2.6v6l3.5 2.6v4.2h-12v-4.2l3.5-2.6v-6l-3.5-2.6zM400.4 777.3h2.6l-1.3 2.2zM400.4 789.5h2.6l-1.3-2.2z"/><path d="M395.7 820.8h12v4.2l-3.5 2.6v6l3.5 2.6v4.2h-12v-4.2l3.5-2.6v-6l-3.5-2.6zM400.4 824.5h2.6l-1.3 2.2zM400.4 836.7h2.6l-1.3-2.2z"/><path d="M395.7 882h12v4.2l-3.5 2.6v6l3.5 2.6v4.2h-12v-4.2l3.5-2.6v-6l-3.5-2.6zM400.4 885.7h2.6l-1.3 2.2zM400.4 897.9h2.6l-1.3-2.2z"/><path d="M416.8 512.3h12v4.2l-3.5 2.6v6l3.5 2.6v4.2h-12v-4.2l3.5-2.6v-6l-3.5-2.6zM421.5 516h2.6l-1.3 2.2zM421.5 528.2h2.6l-1.3-2.2z"/><path d="M416.8 557.3h12v4.2l-3.5 2.6v6l3.5 2.6v4.2h-12v-4.2l3.5-2.6v-6l-3.5-2.6zM421.5 561h2.6l-1.3 2.2zM421.5 573.2h2.6l-1.3-2.2z"/><path d="M416.8 563.7h12v4.2l-3.5 2.6v6l3.5 2.6v4.2h-12v-4.2l3.5-2.6v-6l-3.5-2.6zM421.5 567.4h2.6l-1.3 2.2zM421.5 579.6h2.6l-1.3-2.2z"/><path d="M416.8 571h12v4.2l-3.5 2.6v6l3.5 2.6v4.2h-12v-4.2l3.5-2.6v-6l-3.5-2.6zM421.5 574.7h2.6l-1.3 2.2zM421.5 586.9h2.6l-1.3-2.2z"/><path d="M416.8 576.6h12v4.2l-3.5 2.6v6l3.5 2.6v4.2h-12v-4.2l3.5-2.6v-6l-3.5-2.6zM421.5 580.3h2.6l-1.3 2.2zM421.5 592.5h2.6l-1.3-2.2z"/><path d="M416.8 583.8h12v4.2l-3.5 2.6v6l3.5 2.6v4.2h-12v-4.2l3.5-2.6v-6l-3.5-2.6zM421.5 587.5h2.6l-1.3 2.2zM421.5 599.7h2.6l-1.3-2.2z"/><path d="M416.8 594.1h12v4.2l-3.5 2.6v6l3.5 2.6v4.2h-12v-4.2l3.5-2.6v-6l-3.5-2.6zM421.5 597.8h2.6l-1.3 2.2zM421.5 610h2.6l-1.3-2.2z"/><path d="M416.8 604.5h12v4.2l-3.5 2.6v6l3.5 2.6v4.2h-12v-4.2l3.5-2.6v-6l-3.5-2.6zM421.5 608.2h2.6l-1.3 2.2zM421.5 620.4h2.6l-1.3-2.2z"/><path d="M416.8 613.7h12v4.2l-3.5 2.6v6l3.5 2.6v4.2h-12v-4.2l3.5-2.6v-6l-3.5-2.6zM421.5 617.4h2.6l-1.3 2.2zM421.5 629.6h2.6l-1.3-2.2z"/><path d="M416.8 619.2h12v4.2l-3.5 2.6v6l3.5 2.6v4.2h-12v-4.2l3.5-2.6v-6l-3.5-2.6zM421.5 622.9h2.6l-1.3 2.2zM421.5 635.1h2.6l-1.3-2.2z"/><path d="M416.8 629.4h12v4.2l-3.5 2.6v6l3.5 2.6v4.2h-12v-4.2l3.5-2.6v-6l-3.5-2.6zM421.5 633.1h2.6l-1.3 2.2zM421.5 645.3h2.6l-1.3-2.2z"/><path d="M416.8 638.1h12v4.2l-3.5 2.6v6l3.5 2.6v4.2h-12v-4.2l3.5-2.6v-6l-3.5-2.6zM421.5 641.8h2.6l-1.3 2.2zM421.5 654h2.6l-1.3-2.2z"/><path d="M416.8 671.8h12v4.2l-3.5 2.6v6l3.5 2.6v4.2h-12v-4.2l3.5-2.6v-6l-3.5-2.6zM421.5 675.5h2.6l-1.3 2.2zM421.5 687.7h2.6l-1.3-2.2z"/><path d="M416.8 681.1h12v4.2l-3.5 2.6v6l3.5 2.6v4.2h-12v-4.2l3.5-2.6v-6l-3.5-2.6zM421.5 684.8h2.6l-1.3 2.2zM421.5 697h2.6l-1.3-2.2z"/><path d="M416.8 687.5h12v4.2l-3.5 2.6v6l3.5 2.6v4.2h-12v-4.2l3.5-2.6v-6l-3.5-2.6zM421.5 691.2h2.6l-1.3 2.2zM421.5 703.4h2.6l-1.3-2.2z"/><path d="M416.8 693.5h12v4.2l-3.5 2.6v6l3.5 2.6v4.2h-12v-4.2l3.5-2.6v-6l-3.5-2.6zM421.5 697.2h2.6l-1.3 2.2zM421.5 709.4h2.6l-1.3-2.2z"/><path d="M416.8 701.1h12v4.2l-3.5 2.6v6l3.5 2.6v4.2h-12v-4.2l3.5-2.6v-6l-3.5-2.6zM421.5 704.8h2.6l-1.3 2.2zM421.5 717h2.6l-1.3-2.2z"/><path d="M416.8 711h12v4.2l-3.5 2.6v6l3.5 2.6v4.2h-12v-4.2l3.5-2.6v-6l-3.5-2.6zM421.5 714.7h2.6l-1.3 2.2zM421.5 726.9h2.6l-1.3-2.2z"/><path d="M416.8 719.4h12v4.2l-3.5 2.6v6l3.5 2.6v4.2h-12v-4.2l3.5-2.6v-6l-3.5-2.6zM421.5 723.1h2.6l-1.3 2.2zM421.5 735.3h2.6l-1.3-2.2z"/><path d="M416.8 727.6h12v4.2l-3.5 2.6v6l3.5 2.6v4.2h-12v-4.2l3.5-2.6v-6l-3.5-2.6zM421.5 731.3h2.6l-1.3 2.2zM421.5 743.5h2.6l-1.3-2.2z"/><path d="M416.8 750.5h12v4.2l-3.5 2.6v6l3.5 2.6v4.2h-12v-4.2l3.5-2.6v-6l-3.5-2.6zM421.5 754.2h2.6l-1.3 2.2zM421.5 766.4h2.6l-1.3-2.2z"/><path d="M416.8 771.3h12v4.2l-3.5 2.6v6l3.5 2.6v4.2h-12v-4.2l3.5-2.6v-6l-3.5-2.6zM421.5 775h2.6l-1.3 2.2zM421.5 787.2h2.6l-1.3-2.2z"/><path d="M416.8 778h12v4.2l-3.5 2.6v6l3.5 2.6v4.2h-12v-4.2l3.5-2.6v-6l-3.5-2.6zM421.5 781.7h2.6l-1.3 2.2zM421.5 793.9h2.6l-1.3-2.2z"/><path d="M416.8 786.1h12v4.2l-3.5 2.6v6l3.5 2.6v4.2h-12v-4.2l3.5-2.6v-6l-3.5-2.6zM421.5 789.8h2.6l-1.3 2.2zM421.5 802h2.6l-1.3-2.2z"/><path d="M416.8 795.1h12v4.2l-3.5 2.6v6l3.5 2.6v4.2h-12v-4.2l3.5-2.6v-6l-3.5-2.6zM421.5 798.8h2.6l-1.3 2.2zM421.5 811h2.6l-1.3-2.2z"/><path d="M416.8 804.8h12v4.2l-3.5 2.6v6l3.5 2.6v4.2h-12v-4.2l3.5-2.6v-6l-3.5-2.6zM421.5 808.5h2.6l-1.3 2.2zM421.5 820.7h2.6l-1.3-2.2z"/><path d="M416.8 814.3h12v4.2l-3.5 2.6v6l3.5 2.6v4.2h-12v-4.2l3.5-2.6v-6l-3.5-2.6zM421.5 818h2.6l-1.3 2.2zM421.5 830.2h2.6l-1.3-2.2z"/><path d="M416.8 821h12v4.2l-3.5 2.6v6l3.5 2.6v4.2h-12v-4.2l3.5-2.6v-6l-3.5-2.6zM421.5 824.7h2.6l-1.3 2.2zM421.5 836.9h2.6l-1.3-2.2z"/><path d="M416.8 845.9h12v4.2l-3.5 2.6v6l3.5 2.6v4.2h-12v-4.2l3.5-2.6v-6l-3.5-2.6zM421.5 849.6h2.6l-1.3 2.2zM421.5 861.8h2.6l-1.3-2.2z"/><path d="M437.8 566.3h12v4.2l-3.5 2.6v6l3.5 2.6v4.2h-12v-4.2l3.5-2.6v-6l-3.5-2.6zM442.5 570h2.6l-1.3 2.2zM442.5 582.2h2.6l-1.3-2.2z"/><path d="M437.8 576.2h12v4.2l-3.5 2.6v6l3.5 2.6v4.2h-12v-4.2l3.5-2.6v-6l-3.5-2.6zM442.5 579.9h2.6l-1.3 2.2zM442.5 592.1h2.6l-1.3-2.2z"/><path d="M437.8 582.8h12v4.2l-3.5 2.6v6l3.5 2.6v4.2h-12v-4.2l3.5-2.6v-6l-3.5-2.6zM442.5 586.5h2.6l-1.3 2.2zM442.5 598.7h2.6l-1.3-2.2z"/><path d="M437.8 592.3h12v4.2l-3.5 2.6v6l3.5 2.6v4.2h-12v-4.2l3.5-2.6v-6l-3.5-2.6zM442.5 596h2.6l-1.3 2.2zM442.5 608.2h2.6l-1.3-2.2z"/><path d="M437.8 600.6h12v4.2l-3.5 2.6v6l3.5 2.6v4.2h-12v-4.2l3.5-2.6v-6l-3.5-2.6zM442.5 604.3h2.6l-1.3 2.2zM442.5 616.5h2.6l-1.3-2.2z"/><path d="M437.8 607h12v4.2l-3.5 2.6v6l3.5 2.6v4.2h-12v-4.2l3.5-2.6v-6l-3.5-2.6zM442.5 610.7h2.6l-1.3 2.2zM442.5 622.9h2.6l-1.3-2.2z"/><path d="M437.8 615.4h12v4.2l-3.5 2.6v6l3.5 2.6v4.2h-12v-4.2l3.5-2.6v-6l-3.5-2.6zM442.5 619.1h2.6l-1.3 2.2zM442.5 631.3h2.6l-1.3-2.2z"/><path d="M437.8 623.5h12v4.2l-3.5 2.6v6l3.5 2.6v4.2h-12v-4.2l3.5-2.6v-6l-3.5-2.6zM442.5 627.2h2.6l-1.3 2.2zM442.5 639.4h2.6l-1.3-2.2z"/><path d="M437.8 633.1h12v4.2l-3.5 2.6v6l3.5 2.6v4.2h-12v-4.2l3.5-2.6v-6l-3.5-2.6zM442.5 636.8h2.6l-1.3 2.2zM442.5 649h2.6l-1.3-2.2z"/><path d="M437.8 664.8h12v4.2l-3.5 2.6v6l3.5 2.6v4.2h-12v-4.2l3.5-2.6v-6l-3.5-2.6zM442.5 668.5h2.6l-1.3 2.2zM442.5 680.7h2.6l-1.3-2.2z"/><path d="M437.8 670.5h12v4.2l-3.5 2.6v6l3.5 2.6v4.2h-12v-4.2l3.5-2.6v-6l-3.5-2.6zM442.5 674.2h2.6l-1.3 2.2zM442.5 686.4h2.6l-1.3-2.2z"/><path d="M437.8 676.8h12v4.2l-3.5 2.6v6l3.5 2.6v4.2h-12v-4.2l3.5-2.6v-6l-3.5-2.6zM442.5 680.5h2.6l-1.3 2.2zM442.5 692.7h2.6l-1.3-2.2z"/><path d="M437.8 687.2h12v4.2l-3.5 2.6v6l3.5 2.6v4.2h-12v-4.2l3.5-2.6v-6l-3.5-2.6zM442.5 690.9h2.6l-1.3 2.2zM442.5 703.1h2.6l-1.3-2.2z"/><path d="M437.8 698.5h12v4.2l-3.5 2.6v6l3.5 2.6v4.2h-12v-4.2l3.5-2.6v-6l-3.5-2.6zM442.5 702.2h2.6l-1.3 2.2zM442.5 714.4h2.6l-1.3-2.2z"/><path d="M437.8 727.4h12v4.2l-3.5 2.6v6l3.5 2.6v4.2h-12v-4.2l3.5-2.6v-6l-3.5-2.6zM442.5 731.1h2.6l-1.3 2.2zM442.5 743.3h2.6l-1.3-2.2z"/><path d="M437.8 753.2h12v4.2l-3.5 2.6v6l3.5 2.6v4.2h-12v-4.2l3.5-2.6v-6l-3.5-2.6zM442.5 756.9h2.6l-1.3 2.2zM442.5 769.1h2.6l-1.3-2.2z"/><path d="M437.8 759.5h12v4.2l-3.5 2.6v6l3.5 2.6v4.2h-12v-4.2l3.5-2.6v-6l-3.5-2.6zM442.5 763.2h2.6l-1.3 2.2zM442.5 775.4h2.6l-1.3-2.2z"/><path d="M437.8 766.1h12v4.2l-3.5 2.6v6l3.5 2.6v4.2h-12v-4.2l3.5-2.6v-6l-3.5-2.6zM442.5 769.8h2.6l-1.3 2.2zM442.5 782h2.6l-1.3-2.2z"/><path d="M437.8 769.8h12v4.2l-3.5 2.6v6l3.5 2.6v4.2h-12v-4.2l3.5-2.6v-6l-3.5-2.6zM442.5 773.5h2.6l-1.3 2.2zM442.5 785.7h2.6l-1.3-2.2z"/><path d="M437.8 822.8h12v4.2l-3.5 2.6v6l3.5 2.6v4.2h-12v-4.2l3.5-2.6v-6l-3.5-2.6zM442.5 826.5h2.6l-1.3 2.2zM442.5 838.7h2.6l-1.3-2.2z"/><path d="M458.9 543.2h12v4.2l-3.5 2.6v6l3.5 2.6v4.2h-12v-4.2l3.5-2.6v-6l-3.5-2.6zM463.6 546.9h2.6l-1.3 2.2zM463.6 559.1h2.6l-1.3-2.2z"/><path d="M458.9 547.7h12v4.2l-3.5 2.6v6l3.5 2.6v4.2h-12v-4.2l3.5-2.6v-6l-3.5-2.6zM463.6 551.4h2.6l-1.3 2.2zM463.6 563.6h2.6l-1.3-2.2z"/><path d="M458.9 592.4h12v4.2l-3.5 2.6v6l3.5 2.6v4.2h-12v-4.2l3.5-2.6v-6l-3.5-2.6zM463.6 596.1h2.6l-1.3 2.2zM463.6 608.3h2.6l-1.3-2.2z"/><path d="M458.9 599.6h12v4.2l-3.5 2.6v6l3.5 2.6v4.2h-12v-4.2l3.5-2.6v-6l-3.5-2.6zM463.6 603.3h2.6l-1.3 2.2zM463.6 615.5h2.6l-1.3-2.2z"/><path d="M458.9 605.3h12v4.2l-3.5 2.6v6l3.5 2.6v4.2h-12v-4.2l3.5-2.6v-6l-3.5-2.6zM463.6 609h2.6l-1.3 2.2zM463.6 621.2h2.6l-1.3-2.2z"/><path d="M458.9 614.4h12v4.2l-3.5 2.6v6l3.5 2.6v4.2h-12v-4.2l3.5-2.6v-6l-3.5-2.6zM463.6 618.1h2.6l-1.3 2.2zM463.6 630.3h2.6l-1.3-2.2z"/><path d="M458.9 620.3h12v4.2l-3.5 2.6v6l3.5 2.6v4.2h-12v-4.2l3.5-2.6v-6l-3.5-2.6zM463.6 624h2.6l-1.3 2.2zM463.6 636.2h2.6l-1.3-2.2z"/><path d="M458.9 624.1h12v4.2l-3.5 2.6v6l3.5 2.6v4.2h-12v-4.2l3.5-2.6v-6l-3.5-2.6zM463.6 627.8h2.6l-1.3 2.2zM463.6 640h2.6l-1.3-2.2z"/><path d="M458.9 650.3h12v4.2l-3.5 2.6v6l3.5 2.6v4.2h-12v-4.2l3.5-2.6v-6l-3.5-2.6zM463.6 654h2.6l-1.3 2.2zM463.6 666.2h2.6l-1.3-2.2z"/><path d="M458.9 683.8h12v4.2l-3.5 2.6v6l3.5 2.6v4.2h-12v-4.2l3.5-2.6v-6l-3.5-2.6zM463.6 687.5h2.6l-1.3 2.2zM463.6 699.7h2.6l-1.3-2.2z"/><path d="M458.9 694h12v4.2l-3.5 2.6v6l3.5 2.6v4.2h-12v-4.2l3.5-2.6v-6l-3.5-2.6zM463.6 697.7h2.6l-1.3 2.2zM463.6 709.9h2.6l-1.3-2.2z"/><path d="M458.9 703.4h12v4.2l-3.5 2.6v6l3.5 2.6v4.2h-12v-4.2l3.5-2.6v-6l-3.5-2.6zM463.6 707.1h2.6l-1.3 2.2zM463.6 719.3h2.6l-1.3-2.2z"/><path d="M458.9 712.8h12v4.2l-3.5 2.6v6l3.5 2.6v4.2h-12v-4.2l3.5-2.6v-6l-3.5-2.6zM463.6 716.5h2.6l-1.3 2.2zM463.6 728.7h2.6l-1.3-2.2z"/><path d="M458.9 717.6h12v4.2l-3.5 2.6v6l3.5 2.6v4.2h-12v-4.2l3.5-2.6v-6l-3.5-2.6zM463.6 721.3h2.6l-1.3 2.2zM463.6 733.5h2.6l-1.3-2.2z"/><path d="M480 432.7h12v4.2l-3.5 2.6v6l3.5 2.6v4.2h-12v-4.2l3.5-2.6v-6l-3.5-2.6zM484.7 436.4h2.6l-1.3 2.2zM484.7 448.6h2.6l-1.3-2.2z"/><path d="M480 482.7h12v4.2l-3.5 2.6v6l3.5 2.6v4.2h-12v-4.2l3.5-2.6v-6l-3.5-2.6zM484.7 486.4h2.6l-1.3 2.2zM484.7 498.6h2.6l-1.3-2.2z"/><path d="M480 491.6h12v4.2l-3.5 2.6v6l3.5 2.6v4.2h-12v-4.2l3.5-2.6v-6l-3.5-2.6zM484.7 495.3h2.6l-1.3 2.2zM484.7 507.5h2.6l-1.3-2.2z"/><path d="M480 500.9h12v4.2l-3.5 2.6v6l3.5 2.6v4.2h-12v-4.2l3.5-2.6v-6l-3.5-2.6zM484.7 504.6h2.6l-1.3 2.2zM484.7 516.8h2.6l-1.3-2.2z"/><path d="M480 508.8h12v4.2l-3.5 2.6v6l3.5 2.6v4.2h-12v-4.2l3.5-2.6v-6l-3.5-2.6zM484.7 512.5h2.6l-1.3 2.2zM484.7 524.7h2.6l-1.3-2.2z"/><path d="M480 514.6h12v4.2l-3.5 2.6v6l3.5 2.6v4.2h-12v-4.2l3.5-2.6v-6l-3.5-2.6zM484.7 518.3h2.6l-1.3 2.2zM484.7 530.5h2.6l-1.3-2.2z"/><path d="M480 522.6h12v4.2l-3.5 2.6v6l3.5 2.6v4.2h-12v-4.2l3.5-2.6v-6l-3.5-2.6zM484.7 526.3h2.6l-1.3 2.2zM484.7 538.5h2.6l-1.3-2.2z"/><path d="M480 613.5h12v4.2l-3.5 2.6v6l3.5 2.6v4.2h-12v-4.2l3.5-2.6v-6l-3.5-2.6zM484.7 617.2h2.6l-1.3 2.2zM484.7 629.4h2.6l-1.3-2.2z"/><path d="M480 620.7h12v4.2l-3.5 2.6v6l3.5 2.6v4.2h-12v-4.2l3.5-2.6v-6l-3.5-2.6zM484.7 624.4h2.6l-1.3 2.2zM484.7 636.6h2.6l-1.3-2.2z"/><path d="M480 629.2h12v4.2l-3.5 2.6v6l3.5 2.6v4.2h-12v-4.2l3.5-2.6v-6l-3.5-2.6zM484.7 632.9h2.6l-1.3 2.2zM484.7 645.1h2.6l-1.3-2.2z"/><path d="M480 633.1h12v4.2l-3.5 2.6v6l3.5 2.6v4.2h-12v-4.2l3.5-2.6v-6l-3.5-2.6zM484.7 636.8h2.6l-1.3 2.2zM484.7 649h2.6l-1.3-2.2z"/><path d="M480 657.7h12v4.2l-3.5 2.6v6l3.5 2.6v4.2h-12v-4.2l3.5-2.6v-6l-3.5-2.6zM484.7 661.4h2.6l-1.3 2.2zM484.7 673.6h2.6l-1.3-2.2z"/><path d="M480 668h12v4.2l-3.5 2.6v6l3.5 2.6v4.2h-12v-4.2l3.5-2.6v-6l-3.5-2.6zM484.7 671.7h2.6l-1.3 2.2zM484.7 683.9h2.6l-1.3-2.2z"/><path d="M480 674.5h12v4.2l-3.5 2.6v6l3.5 2.6v4.2h-12v-4.2l3.5-2.6v-6l-3.5-2.6zM484.7 678.2h2.6l-1.3 2.2zM484.7 690.4h2.6l-1.3-2.2z"/><path d="M480 683.8h12v4.2l-3.5 2.6v6l3.5 2.6v4.2h-12v-4.2l3.5-2.6v-6l-3.5-2.6zM484.7 687.5h2.6l-1.3 2.2zM484.7 699.7h2.6l-1.3-2.2z"/><path d="M480 694.4h12v4.2l-3.5 2.6v6l3.5 2.6v4.2h-12v-4.2l3.5-2.6v-6l-3.5-2.6zM484.7 698.1h2.6l-1.3 2.2zM484.7 710.3h2.6l-1.3-2.2z"/><path d="M480 696.2h12v4.2l-3.5 2.6v6l3.5 2.6v4.2h-12v-4.2l3.5-2.6v-6l-3.5-2.6zM484.7 699.9h2.6l-1.3 2.2zM484.7 712.1h2.6l-1.3-2.2z"/><path d="M480 733.4h12v4.2l-3.5 2.6v6l3.5 2.6v4.2h-12v-4.2l3.5-2.6v-6l-3.5-2.6zM484.7 737.1h2.6l-1.3 2.2zM484.7 749.3h2.6l-1.3-2.2z"/><path d="M501 549.5h12v4.2l-3.5 2.6v6l3.5 2.6v4.2h-12v-4.2l3.5-2.6v-6l-3.5-2.6zM505.7 553.2h2.6l-1.3 2.2zM505.7 565.4h2.6l-1.3-2.2z"/><path d="M501 624.6h12v4.2l-3.5 2.6v6l3.5 2.6v4.2h-12v-4.2l3.5-2.6v-6l-3.5-2.6zM505.7 628.3h2.6l-1.3 2.2zM505.7 640.5h2.6l-1.3-2.2z"/><path d="M501 632.9h12v4.2l-3.5 2.6v6l3.5 2.6v4.2h-12v-4.2l3.5-2.6v-6l-3.5-2.6zM505.7 636.6h2.6l-1.3 2.2zM505.7 648.8h2.6l-1.3-2.2z"/><path d="M501 635.1h12v4.2l-3.5 2.6v6l3.5 2.6v4.2h-12v-4.2l3.5-2.6v-6l-3.5-2.6zM505.7 638.8h2.6l-1.3 2.2zM505.7 651h2.6l-1.3-2.2z"/><path d="M501 659.7h12v4.2l-3.5 2.6v6l3.5 2.6v4.2h-12v-4.2l3.5-2.6v-6l-3.5-2.6zM505.7 663.4h2.6l-1.3 2.2zM505.7 675.6h2.6l-1.3-2.2z"/><path d="M501 666.1h12v4.2l-3.5 2.6v6l3.5 2.6v4.2h-12v-4.2l3.5-2.6v-6l-3.5-2.6zM505.7 669.8h2.6l-1.3 2.2zM505.7 682h2.6l-1.3-2.2z"/><path d="M501 676.4h12v4.2l-3.5 2.6v6l3.5 2.6v4.2h-12v-4.2l3.5-2.6v-6l-3.5-2.6zM505.7 680.1h2.6l-1.3 2.2zM505.7 692.3h2.6l-1.3-2.2z"/><path d="M501 683.1h12v4.2l-3.5 2.6v6l3.5 2.6v4.2h-12v-4.2l3.5-2.6v-6l-3.5-2.6zM505.7 686.8h2.6l-1.3 2.2zM505.7 699h2.6l-1.3-2.2z"/><path d="M501 685.3h12v4.2l-3.5 2.6v6l3.5 2.6v4.2h-12v-4.2l3.5-2.6v-6l-3.5-2.6zM505.7 689h2.6l-1.3 2.2zM505.7 701.2h2.6l-1.3-2.2z"/><path d="M522.1 509.1h12v4.2l-3.5 2.6v6l3.5 2.6v4.2h-12v-4.2l3.5-2.6v-6l-3.5-2.6zM526.8 512.8h2.6l-1.3 2.2zM526.8 525h2.6l-1.3-2.2z"/><path d="M522.1 516h12v4.2l-3.5 2.6v6l3.5 2.6v4.2h-12v-4.2l3.5-2.6v-6l-3.5-2.6zM526.8 519.7h2.6l-1.3 2.2zM526.8 531.9h2.6l-1.3-2.2z"/><path d="M522.1 524.2h12v4.2l-3.5 2.6v6l3.5 2.6v4.2h-12v-4.2l3.5-2.6v-6l-3.5-2.6zM526.8 527.9h2.6l-1.3 2.2zM526.8 540.1h2.6l-1.3-2.2z"/><path d="M522.1 532.3h12v4.2l-3.5 2.6v6l3.5 2.6v4.2h-12v-4.2l3.5-2.6v-6l-3.5-2.6zM526.8 536h2.6l-1.3 2.2zM526.8 548.2h2.6l-1.3-2.2z"/><path d="M522.1 535.7h12v4.2l-3.5 2.6v6l3.5 2.6v4.2h-12v-4.2l3.5-2.6v-6l-3.5-2.6zM526.8 539.4h2.6l-1.3 2.2zM526.8 551.6h2.6l-1.3-2.2z"/><path d="M522.1 564.3h12v4.2l-3.5 2.6v6l3.5 2.6v4.2h-12v-4.2l3.5-2.6v-6l-3.5-2.6zM526.8 568h2.6l-1.3 2.2zM526.8 580.2h2.6l-1.3-2.2z"/><path d="M522.1 569.8h12v4.2l-3.5 2.6v6l3.5 2.6v4.2h-12v-4.2l3.5-2.6v-6l-3.5-2.6zM526.8 573.5h2.6l-1.3 2.2zM526.8 585.7h2.6l-1.3-2.2z"/><path d="M522.1 577.8h12v4.2l-3.5 2.6v6l3.5 2.6v4.2h-12v-4.2l3.5-2.6v-6l-3.5-2.6zM526.8 581.5h2.6l-1.3 2.2zM526.8 593.7h2.6l-1.3-2.2z"/><path d="M522.1 583.9h12v4.2l-3.5 2.6v6l3.5 2.6v4.2h-12v-4.2l3.5-2.6v-6l-3.5-2.6zM526.8 587.6h2.6l-1.3 2.2zM526.8 599.8h2.6l-1.3-2.2z"/><path d="M543.2 568.3h12v4.2l-3.5 2.6v6l3.5 2.6v4.2h-12v-4.2l3.5-2.6v-6l-3.5-2.6zM547.9 572h2.6l-1.3 2.2zM547.9 584.2h2.6l-1.3-2.2z"/><path d="M543.2 576.9h12v4.2l-3.5 2.6v6l3.5 2.6v4.2h-12v-4.2l3.5-2.6v-6l-3.5-2.6zM547.9 580.6h2.6l-1.3 2.2zM547.9 592.8h2.6l-1.3-2.2z"/><path d="M543.2 587.9h12v4.2l-3.5 2.6v6l3.5 2.6v4.2h-12v-4.2l3.5-2.6v-6l-3.5-2.6zM547.9 591.6h2.6l-1.3 2.2zM547.9 603.8h2.6l-1.3-2.2z"/><path d="M543.2 618.2h12v4.2l-3.5 2.6v6l3.5 2.6v4.2h-12v-4.2l3.5-2.6v-6l-3.5-2.6zM547.9 621.9h2.6l-1.3 2.2zM547.9 634.1h2.6l-1.3-2.2z"/><path d="M543.2 649.7h12v4.2l-3.5 2.6v6l3.5 2.6v4.2h-12v-4.2l3.5-2.6v-6l-3.5-2.6zM547.9 653.4h2.6l-1.3 2.2zM547.9 665.6h2.6l-1.3-2.2z"/><path d="M543.2 655.7h12v4.2l-3.5 2.6v6l3.5 2.6v4.2h-12v-4.2l3.5-2.6v-6l-3.5-2.6zM547.9 659.4h2.6l-1.3 2.2zM547.9 671.6h2.6l-1.3-2.2z"/><path d="M543.2 663.7h12v4.2l-3.5 2.6v6l3.5 2.6v4.2h-12v-4.2l3.5-2.6v-6l-3.5-2.6zM547.9 667.4h2.6l-1.3 2.2zM547.9 679.6h2.6l-1.3-2.2z"/><path d="M543.2 671.2h12v4.2l-3.5 2.6v6l3.5 2.6v4.2h-12v-4.2l3.5-2.6v-6l-3.5-2.6zM547.9 674.9h2.6l-1.3 2.2zM547.9 687.1h2.6l-1.3-2.2z"/><path d="M543.2 673.3h12v4.2l-3.5 2.6v6l3.5 2.6v4.2h-12v-4.2l3.5-2.6v-6l-3.5-2.6zM547.9 677h2.6l-1.3 2.2zM547.9 689.2h2.6l-1.3-2.2z"/><path d="M564.2 552.3h12v4.2l-3.5 2.6v6l3.5 2.6v4.2h-12v-4.2l3.5-2.6v-6l-3.5-2.6zM569 556h2.6l-1.3 2.2zM569 568.2h2.6l-1.3-2.2z"/><path d="M564.2 562.5h12v4.2l-3.5 2.6v6l3.5 2.6v4.2h-12v-4.2l3.5-2.6v-6l-3.5-2.6zM569 566.2h2.6l-1.3 2.2zM569 578.4h2.6l-1.3-2.2z"/><path d="M564.2 571.8h12v4.2l-3.5 2.6v6l3.5 2.6v4.2h-12v-4.2l3.5-2.6v-6l-3.5-2.6zM569 575.5h2.6l-1.3 2.2zM569 587.7h2.6l-1.3-2.2z"/><path d="M564.2 631.3h12v4.2l-3.5 2.6v6l3.5 2.6v4.2h-12v-4.2l3.5-2.6v-6l-3.5-2.6zM569 635h2.6l-1.3 2.2zM569 647.2h2.6l-1.3-2.2z"/><path d="M585.3 476.6h12v4.2l-3.5 2.6v6l3.5 2.6v4.2h-12v-4.2l3.5-2.6v-6l-3.5-2.6zM590 480.3h2.6l-1.3 2.2zM590 492.5h2.6l-1.3-2.2z"/><path d="M585.3 482.5h12v4.2l-3.5 2.6v6l3.5 2.6v4.2h-12v-4.2l3.5-2.6v-6l-3.5-2.6zM590 486.2h2.6l-1.3 2.2zM590 498.4h2.6l-1.3-2.2z"/><path d="M585.3 504.8h12v4.2l-3.5 2.6v6l3.5 2.6v4.2h-12v-4.2l3.5-2.6v-6l-3.5-2.6zM590 508.5h2.6l-1.3 2.2zM590 520.7h2.6l-1.3-2.2z"/><path d="M585.3 514.7h12v4.2l-3.5 2.6v6l3.5 2.6v4.2h-12v-4.2l3.5-2.6v-6l-3.5-2.6zM590 518.4h2.6l-1.3 2.2zM590 530.6h2.6l-1.3-2.2z"/><path d="M585.3 520.3h12v4.2l-3.5 2.6v6l3.5 2.6v4.2h-12v-4.2l3.5-2.6v-6l-3.5-2.6zM590 524h2.6l-1.3 2.2zM590 536.2h2.6l-1.3-2.2z"/><path d="M585.3 527.4h12v4.2l-3.5 2.6v6l3.5 2.6v4.2h-12v-4.2l3.5-2.6v-6l-3.5-2.6zM590 531.1h2.6l-1.3 2.2zM590 543.3h2.6l-1.3-2.2z"/><path d="M585.3 534.9h12v4.2l-3.5 2.6v6l3.5 2.6v4.2h-12v-4.2l3.5-2.6v-6l-3.5-2.6zM590 538.6h2.6l-1.3 2.2zM590 550.8h2.6l-1.3-2.2z"/><path d="M585.3 541.3h12v4.2l-3.5 2.6v6l3.5 2.6v4.2h-12v-4.2l3.5-2.6v-6l-3.5-2.6zM590 545h2.6l-1.3 2.2zM590 557.2h2.6l-1.3-2.2z"/><path d="M585.3 550.2h12v4.2l-3.5 2.6v6l3.5 2.6v4.2h-12v-4.2l3.5-2.6v-6l-3.5-2.6zM590 553.9h2.6l-1.3 2.2zM590 566.1h2.6l-1.3-2.2z"/><path d="M585.3 558.3h12v4.2l-3.5 2.6v6l3.5 2.6v4.2h-12v-4.2l3.5-2.6v-6l-3.5-2.6zM590 562h2.6l-1.3 2.2zM590 574.2h2.6l-1.3-2.2z"/><path d="M585.3 564.8h12v4.2l-3.5 2.6v6l3.5 2.6v4.2h-12v-4.2l3.5-2.6v-6l-3.5-2.6zM590 568.5h2.6l-1.3 2.2zM590 580.7h2.6l-1.3-2.2z"/><path d="M585.3 614.5h12v4.2l-3.5 2.6v6l3.5 2.6v4.2h-12v-4.2l3.5-2.6v-6l-3.5-2.6zM590 618.2h2.6l-1.3 2.2zM590 630.4h2.6l-1.3-2.2z"/><path d="M585.3 622.1h12v4.2l-3.5 2.6v6l3.5 2.6v4.2h-12v-4.2l3.5-2.6v-6l-3.5-2.6zM590 625.8h2.6l-1.3 2.2zM590 638h2.6l-1.3-2.2z"/><path d="M585.3 649.9h12v4.2l-3.5 2.6v6l3.5 2.6v4.2h-12v-4.2l3.5-2.6v-6l-3.5-2.6zM590 653.6h2.6l-1.3 2.2zM590 665.8h2.6l-1.3-2.2z"/><path d="M606.4 436.3h12v4.2l-3.5 2.6v6l3.5 2.6v4.2h-12v-4.2l3.5-2.6v-6l-3.5-2.6zM611.1 440h2.6l-1.3 2.2zM611.1 452.2h2.6l-1.3-2.2z"/><path d="M606.4 514.8h12v4.2l-3.5 2.6v6l3.5 2.6v4.2h-12v-4.2l3.5-2.6v-6l-3.5-2.6zM611.1 518.5h2.6l-1.3 2.2zM611.1 530.7h2.6l-1.3-2.2z"/><path d="M606.4 522.6h12v4.2l-3.5 2.6v6l3.5 2.6v4.2h-12v-4.2l3.5-2.6v-6l-3.5-2.6zM611.1 526.3h2.6l-1.3 2.2zM611.1 538.5h2.6l-1.3-2.2z"/><path d="M606.4 549.3h12v4.2l-3.5 2.6v6l3.5 2.6v4.2h-12v-4.2l3.5-2.6v-6l-3.5-2.6zM611.1 553h2.6l-1.3 2.2zM611.1 565.2h2.6l-1.3-2.2z"/><path d="M606.4 556.4h12v4.2l-3.5 2.6v6l3.5 2.6v4.2h-12v-4.2l3.5-2.6v-6l-3.5-2.6zM611.1 560.1h2.6l-1.3 2.2zM611.1 572.3h2.6l-1.3-2.2z"/><path d="M606.4 562.2h12v4.2l-3.5 2.6v6l3.5 2.6v4.2h-12v-4.2l3.5-2.6v-6l-3.5-2.6zM611.1 565.9h2.6l-1.3 2.2zM611.1 578.1h2.6l-1.3-2.2z"/><path d="M606.4 570h12v4.2l-3.5 2.6v6l3.5 2.6v4.2h-12v-4.2l3.5-2.6v-6l-3.5-2.6zM611.1 573.7h2.6l-1.3 2.2zM611.1 585.9h2.6l-1.3-2.2z"/><path d="M606.4 576.5h12v4.2l-3.5 2.6v6l3.5 2.6v4.2h-12v-4.2l3.5-2.6v-6l-3.5-2.6zM611.1 580.2h2.6l-1.3 2.2zM611.1 592.4h2.6l-1.3-2.2z"/><path d="M606.4 581.9h12v4.2l-3.5 2.6v6l3.5 2.6v4.2h-12v-4.2l3.5-2.6v-6l-3.5-2.6zM611.1 585.6h2.6l-1.3 2.2zM611.1 597.8h2.6l-1.3-2.2z"/><path d="M627.5 463.2h12v4.2l-3.5 2.6v6l3.5 2.6v4.2h-12v-4.2l3.5-2.6v-6l-3.5-2.6zM632.2 466.9h2.6l-1.3 2.2zM632.2 479.1h2.6l-1.3-2.2z"/><path d="M627.5 488.9h12v4.2l-3.5 2.6v6l3.5 2.6v4.2h-12v-4.2l3.5-2.6v-6l-3.5-2.6zM632.2 492.6h2.6l-1.3 2.2zM632.2 504.8h2.6l-1.3-2.2z"/><path d="M627.5 489.7h12v4.2l-3.5 2.6v6l3.5 2.6v4.2h-12v-4.2l3.5-2.6v-6l-3.5-2.6zM632.2 493.4h2.6l-1.3 2.2zM632.2 505.6h2.6l-1.3-2.2z"/><path d="M627.5 564.3h12v4.2l-3.5 2.6v6l3.5 2.6v4.2h-12v-4.2l3.5-2.6v-6l-3.5-2.6zM632.2 568h2.6l-1.3 2.2zM632.2 580.2h2.6l-1.3-2.2z"/><path d="M627.5 570.8h12v4.2l-3.5 2.6v6l3.5 2.6v4.2h-12v-4.2l3.5-2.6v-6l-3.5-2.6zM632.2 574.5h2.6l-1.3 2.2zM632.2 586.7h2.6l-1.3-2.2z"/><path d="M627.5 578.2h12v4.2l-3.5 2.6v6l3.5 2.6v4.2h-12v-4.2l3.5-2.6v-6l-3.5-2.6zM632.2 581.9h2.6l-1.3 2.2zM632.2 594.1h2.6l-1.3-2.2z"/><path d="M627.5 584.7h12v4.2l-3.5 2.6v6l3.5 2.6v4.2h-12v-4.2l3.5-2.6v-6l-3.5-2.6zM632.2 588.4h2.6l-1.3 2.2zM632.2 600.6h2.6l-1.3-2.2z"/><path d="M627.5 587.9h12v4.2l-3.5 2.6v6l3.5 2.6v4.2h-12v-4.2l3.5-2.6v-6l-3.5-2.6zM632.2 591.6h2.6l-1.3 2.2zM632.2 603.8h2.6l-1.3-2.2z"/><path d="M627.5 630.3h12v4.2l-3.5 2.6v6l3.5 2.6v4.2h-12v-4.2l3.5-2.6v-6l-3.5-2.6zM632.2 634h2.6l-1.3 2.2zM632.2 646.2h2.6l-1.3-2.2z"/><path d="M648.5 462.2h12v4.2l-3.5 2.6v6l3.5 2.6v4.2h-12v-4.2l3.5-2.6v-6l-3.5-2.6zM653.2 465.9h2.6l-1.3 2.2zM653.2 478.1h2.6l-1.3-2.2z"/><path d="M648.5 504.8h12v4.2l-3.5 2.6v6l3.5 2.6v4.2h-12v-4.2l3.5-2.6v-6l-3.5-2.6zM653.2 508.5h2.6l-1.3 2.2zM653.2 520.7h2.6l-1.3-2.2z"/><path d="M648.5 511.6h12v4.2l-3.5 2.6v6l3.5 2.6v4.2h-12v-4.2l3.5-2.6v-6l-3.5-2.6zM653.2 515.3h2.6l-1.3 2.2zM653.2 527.5h2.6l-1.3-2.2z"/><path d="M648.5 519.2h12v4.2l-3.5 2.6v6l3.5 2.6v4.2h-12v-4.2l3.5-2.6v-6l-3.5-2.6zM653.2 522.9h2.6l-1.3 2.2zM653.2 535.1h2.6l-1.3-2.2z"/><path d="M648.5 526.5h12v4.2l-3.5 2.6v6l3.5 2.6v4.2h-12v-4.2l3.5-2.6v-6l-3.5-2.6zM653.2 530.2h2.6l-1.3 2.2zM653.2 542.4h2.6l-1.3-2.2z"/><path d="M648.5 534.6h12v4.2l-3.5 2.6v6l3.5 2.6v4.2h-12v-4.2l3.5-2.6v-6l-3.5-2.6zM653.2 538.3h2.6l-1.3 2.2zM653.2 550.5h2.6l-1.3-2.2z"/><path d="M648.5 543h12v4.2l-3.5 2.6v6l3.5 2.6v4.2h-12v-4.2l3.5-2.6v-6l-3.5-2.6zM653.2 546.7h2.6l-1.3 2.2zM653.2 558.9h2.6l-1.3-2.2z"/><path d="M648.5 551.6h12v4.2l-3.5 2.6v6l3.5 2.6v4.2h-12v-4.2l3.5-2.6v-6l-3.5-2.6zM653.2 555.3h2.6l-1.3 2.2zM653.2 567.5h2.6l-1.3-2.2z"/><path d="M648.5 557.5h12v4.2l-3.5 2.6v6l3.5 2.6v4.2h-12v-4.2l3.5-2.6v-6l-3.5-2.6zM653.2 561.2h2.6l-1.3 2.2zM653.2 573.4h2.6l-1.3-2.2z"/><path d="M648.5 564.8h12v4.2l-3.5 2.6v6l3.5 2.6v4.2h-12v-4.2l3.5-2.6v-6l-3.5-2.6zM653.2 568.5h2.6l-1.3 2.2zM653.2 580.7h2.6l-1.3-2.2z"/><path d="M648.5 573.9h12v4.2l-3.5 2.6v6l3.5 2.6v4.2h-12v-4.2l3.5-2.6v-6l-3.5-2.6zM653.2 577.6h2.6l-1.3 2.2zM653.2 589.8h2.6l-1.3-2.2z"/><path d="M648.5 579.5h12v4.2l-3.5 2.6v6l3.5 2.6v4.2h-12v-4.2l3.5-2.6v-6l-3.5-2.6zM653.2 583.2h2.6l-1.3 2.2zM653.2 595.4h2.6l-1.3-2.2z"/><path d="M648.5 583.9h12v4.2l-3.5 2.6v6l3.5 2.6v4.2h-12v-4.2l3.5-2.6v-6l-3.5-2.6zM653.2 587.6h2.6l-1.3 2.2zM653.2 599.8h2.6l-1.3-2.2z"/><path d="M648.5 669.4h12v4.2l-3.5 2.6v6l3.5 2.6v4.2h-12v-4.2l3.5-2.6v-6l-3.5-2.6zM653.2 673.1h2.6l-1.3 2.2zM653.2 685.3h2.6l-1.3-2.2z"/><path d="M669.6 473.6h12v4.2l-3.5 2.6v6l3.5 2.6v4.2h-12v-4.2l3.5-2.6v-6l-3.5-2.6zM674.3 477.3h2.6l-1.3 2.2zM674.3 489.5h2.6l-1.3-2.2z"/><path d="M669.6 480.1h12v4.2l-3.5 2.6v6l3.5 2.6v4.2h-12v-4.2l3.5-2.6v-6l-3.5-2.6zM674.3 483.8h2.6l-1.3 2.2zM674.3 496h2.6l-1.3-2.2z"/><path d="M669.6 519.1h12v4.2l-3.5 2.6v6l3.5 2.6v4.2h-12v-4.2l3.5-2.6v-6l-3.5-2.6zM674.3 522.8h2.6l-1.3 2.2zM674.3 535h2.6l-1.3-2.2z"/><path d="M669.6 526.6h12v4.2l-3.5 2.6v6l3.5 2.6v4.2h-12v-4.2l3.5-2.6v-6l-3.5-2.6zM674.3 530.3h2.6l-1.3 2.2zM674.3 542.5h2.6l-1.3-2.2z"/><path d="M669.6 534.4h12v4.2l-3.5 2.6v6l3.5 2.6v4.2h-12v-4.2l3.5-2.6v-6l-3.5-2.6zM674.3 538.1h2.6l-1.3 2.2zM674.3 550.3h2.6l-1.3-2.2z"/><path d="M669.6 541.2h12v4.2l-3.5 2.6v6l3.5 2.6v4.2h-12v-4.2l3.5-2.6v-6l-3.5-2.6zM674.3 544.9h2.6l-1.3 2.2zM674.3 557.1h2.6l-1.3-2.2z"/><path d="M669.6 550.4h12v4.2l-3.5 2.6v6l3.5 2.6v4.2h-12v-4.2l3.5-2.6v-6l-3.5-2.6zM674.3 554.1h2.6l-1.3 2.2zM674.3 566.3h2.6l-1.3-2.2z"/><path d="M669.6 558.3h12v4.2l-3.5 2.6v6l3.5 2.6v4.2h-12v-4.2l3.5-2.6v-6l-3.5-2.6zM674.3 562h2.6l-1.3 2.2zM674.3 574.2h2.6l-1.3-2.2z"/><path d="M669.6 565.1h12v4.2l-3.5 2.6v6l3.5 2.6v4.2h-12v-4.2l3.5-2.6v-6l-3.5-2.6zM674.3 568.8h2.6l-1.3 2.2zM674.3 581h2.6l-1.3-2.2z"/><path d="M669.6 568.8h12v4.2l-3.5 2.6v6l3.5 2.6v4.2h-12v-4.2l3.5-2.6v-6l-3.5-2.6zM674.3 572.5h2.6l-1.3 2.2zM674.3 584.7h2.6l-1.3-2.2z"/><path d="M669.6 686.5h12v4.2l-3.5 2.6v6l3.5 2.6v4.2h-12v-4.2l3.5-2.6v-6l-3.5-2.6zM674.3 690.2h2.6l-1.3 2.2zM674.3 702.4h2.6l-1.3-2.2z"/><path d="M690.7 492.7h12v4.2l-3.5 2.6v6l3.5 2.6v4.2h-12v-4.2l3.5-2.6v-6l-3.5-2.6zM695.4 496.4h2.6l-1.3 2.2zM695.4 508.6h2.6l-1.3-2.2z"/><path d="M690.7 499.9h12v4.2l-3.5 2.6v6l3.5 2.6v4.2h-12v-4.2l3.5-2.6v-6l-3.5-2.6zM695.4 503.6h2.6l-1.3 2.2zM695.4 515.8h2.6l-1.3-2.2z"/><path d="M690.7 506.3h12v4.2l-3.5 2.6v6l3.5 2.6v4.2h-12v-4.2l3.5-2.6v-6l-3.5-2.6zM695.4 510h2.6l-1.3 2.2zM695.4 522.2h2.6l-1.3-2.2z"/><path d="M690.7 569h12v4.2l-3.5 2.6v6l3.5 2.6v4.2h-12v-4.2l3.5-2.6v-6l-3.5-2.6zM695.4 572.7h2.6l-1.3 2.2zM695.4 584.9h2.6l-1.3-2.2z"/><path d="M690.7 638.9h12v4.2l-3.5 2.6v6l3.5 2.6v4.2h-12v-4.2l3.5-2.6v-6l-3.5-2.6zM695.4 642.6h2.6l-1.3 2.2zM695.4 654.8h2.6l-1.3-2.2z"/><path d="M711.7 511.7h12v4.2l-3.5 2.6v6l3.5 2.6v4.2h-12v-4.2l3.5-2.6v-6l-3.5-2.6zM716.4 515.4h2.6l-1.3 2.2zM716.4 527.6h2.6l-1.3-2.2z"/><path d="M711.7 520.3h12v4.2l-3.5 2.6v6l3.5 2.6v4.2h-12v-4.2l3.5-2.6v-6l-3.5-2.6zM716.4 524h2.6l-1.3 2.2zM716.4 536.2h2.6l-1.3-2.2z"/><path d="M711.7 557.3h12v4.2l-3.5 2.6v6l3.5 2.6v4.2h-12v-4.2l3.5-2.6v-6l-3.5-2.6zM716.4 561h2.6l-1.3 2.2zM716.4 573.2h2.6l-1.3-2.2z"/><path d="M711.7 565.9h12v4.2l-3.5 2.6v6l3.5 2.6v4.2h-12v-4.2l3.5-2.6v-6l-3.5-2.6zM716.4 569.6h2.6l-1.3 2.2zM716.4 581.8h2.6l-1.3-2.2z"/><path d="M711.7 576.1h12v4.2l-3.5 2.6v6l3.5 2.6v4.2h-12v-4.2l3.5-2.6v-6l-3.5-2.6zM716.4 579.8h2.6l-1.3 2.2zM716.4 592h2.6l-1.3-2.2z"/><path d="M711.7 581.7h12v4.2l-3.5 2.6v6l3.5 2.6v4.2h-12v-4.2l3.5-2.6v-6l-3.5-2.6zM716.4 585.4h2.6l-1.3 2.2zM716.4 597.6h2.6l-1.3-2.2z"/><path d="M711.7 585.9h12v4.2l-3.5 2.6v6l3.5 2.6v4.2h-12v-4.2l3.5-2.6v-6l-3.5-2.6zM716.4 589.6h2.6l-1.3 2.2zM716.4 601.8h2.6l-1.3-2.2z"/><path d="M732.8 483h12v4.2l-3.5 2.6v6l3.5 2.6v4.2h-12v-4.2l3.5-2.6v-6l-3.5-2.6zM737.5 486.7h2.6l-1.3 2.2zM737.5 498.9h2.6l-1.3-2.2z"/><path d="M732.8 486.2h12v4.2l-3.5 2.6v6l3.5 2.6v4.2h-12v-4.2l3.5-2.6v-6l-3.5-2.6zM737.5 489.9h2.6l-1.3 2.2zM737.5 502.1h2.6l-1.3-2.2z"/><path d="M732.8 525.5h12v4.2l-3.5 2.6v6l3.5 2.6v4.2h-12v-4.2l3.5-2.6v-6l-3.5-2.6zM737.5 529.2h2.6l-1.3 2.2zM737.5 541.4h2.6l-1.3-2.2z"/><path d="M732.8 548.5h12v4.2l-3.5 2.6v6l3.5 2.6v4.2h-12v-4.2l3.5-2.6v-6l-3.5-2.6zM737.5 552.2h2.6l-1.3 2.2zM737.5 564.4h2.6l-1.3-2.2z"/><path d="M732.8 585.1h12v4.2l-3.5 2.6v6l3.5 2.6v4.2h-12v-4.2l3.5-2.6v-6l-3.5-2.6zM737.5 588.8h2.6l-1.3 2.2zM737.5 601h2.6l-1.3-2.2z"/><path d="M753.9 469.2h12v4.2l-3.5 2.6v6l3.5 2.6v4.2h-12v-4.2l3.5-2.6v-6l-3.5-2.6zM758.6 472.9h2.6l-1.3 2.2zM758.6 485.1h2.6l-1.3-2.2z"/><path d="M753.9 502.1h12v4.2l-3.5 2.6v6l3.5 2.6v4.2h-12v-4.2l3.5-2.6v-6l-3.5-2.6zM758.6 505.8h2.6l-1.3 2.2zM758.6 518h2.6l-1.3-2.2z"/><path d="M753.9 567.3h12v4.2l-3.5 2.6v6l3.5 2.6v4.2h-12v-4.2l3.5-2.6v-6l-3.5-2.6zM758.6 571h2.6l-1.3 2.2zM758.6 583.2h2.6l-1.3-2.2z"/><path d="M753.9 573.9h12v4.2l-3.5 2.6v6l3.5 2.6v4.2h-12v-4.2l3.5-2.6v-6l-3.5-2.6zM758.6 577.6h2.6l-1.3 2.2zM758.6 589.8h2.6l-1.3-2.2z"/><path d="M753.9 683.5h12v4.2l-3.5 2.6v6l3.5 2.6v4.2h-12v-4.2l3.5-2.6v-6l-3.5-2.6zM758.6 687.2h2.6l-1.3 2.2zM758.6 699.4h2.6l-1.3-2.2z"/><path d="M775 520.1h12v4.2l-3.5 2.6v6l3.5 2.6v4.2h-12v-4.2l3.5-2.6v-6l-3.5-2.6zM779.7 523.8h2.6l-1.3 2.2zM779.7 536h2.6l-1.3-2.2z"/><path d="M775 529.3h12v4.2l-3.5 2.6v6l3.5 2.6v4.2h-12v-4.2l3.5-2.6v-6l-3.5-2.6zM779.7 533h2.6l-1.3 2.2zM779.7 545.2h2.6l-1.3-2.2z"/><path d="M775 540.4h12v4.2l-3.5 2.6v6l3.5 2.6v4.2h-12v-4.2l3.5-2.6v-6l-3.5-2.6zM779.7 544.1h2.6l-1.3 2.2zM779.7 556.3h2.6l-1.3-2.2z"/><path d="M796 570.3h12v4.2l-3.5 2.6v6l3.5 2.6v4.2h-12v-4.2l3.5-2.6v-6l-3.5-2.6zM800.7 574h2.6l-1.3 2.2zM800.7 586.2h2.6l-1.3-2.2z"/></g>
<g class="y"><rect x="455.9" y="378.3" width="18" height="18"/><rect x="477" y="413.4" width="18" height="18"/><rect x="498" y="428.5" width="18" height="18"/><rect x="561.2" y="312" width="18" height="18"/><rect x="561.2" y="432.5" width="18" height="18"/><rect x="582.3" y="370.8" width="18" height="18"/><rect x="603.4" y="396.9" width="18" height="18"/><rect x="603.4" y="420.4" width="18" height="18"/><rect x="624.5" y="314.8" width="18" height="18"/><rect x="624.5" y="352.1" width="18" height="18"/><rect x="624.5" y="387.7" width="18" height="18"/><rect x="624.5" y="415.8" width="18" height="18"/><rect x="624.5" y="443.9" width="18" height="18"/><rect x="645.5" y="363.6" width="18" height="18"/><rect x="645.5" y="429.5" width="18" height="18"/><rect x="666.6" y="319.1" width="18" height="18"/><rect x="666.6" y="328.8" width="18" height="18"/><rect x="666.6" y="370.8" width="18" height="18"/><rect x="666.6" y="378.4" width="18" height="18"/><rect x="666.6" y="383.1" width="18" height="18"/><rect x="666.6" y="405.8" width="18" height="18"/><rect x="666.6" y="432.1" width="18" height="18"/><rect x="687.7" y="215.5" width="18" height="18"/><rect x="687.7" y="274.7" width="18" height="18"/><rect x="687.7" y="327.4" width="18" height="18"/><rect x="687.7" y="327.5" width="18" height="18"/><rect x="687.7" y="387.2" width="18" height="18"/><rect x="687.7" y="420.4" width="18" height="18"/><rect x="687.7" y="420.7" width="18" height="18"/><rect x="687.7" y="460.6" width="18" height="18"/><rect x="708.7" y="279.3" width="18" height="18"/><rect x="708.7" y="377.5" width="18" height="18"/><rect x="708.7" y="408.6" width="18" height="18"/><rect x="708.7" y="416.9" width="18" height="18"/><rect x="708.7" y="425.1" width="18" height="18"/><rect x="708.7" y="434.2" width="18" height="18"/><rect x="708.7" y="440.7" width="18" height="18"/><rect x="729.8" y="347.3" width="18" height="18"/><rect x="729.8" y="352.1" width="18" height="18"/><rect x="729.8" y="381.2" width="18" height="18"/><rect x="729.8" y="386.6" width="18" height="18"/><rect x="750.9" y="307.1" width="18" height="18"/><rect x="750.9" y="376.8" width="18" height="18"/><rect x="750.9" y="382.2" width="18" height="18"/><rect x="750.9" y="437.1" width="18" height="18"/><rect x="750.9" y="474" width="18" height="18"/><rect x="772" y="282.8" width="18" height="18"/><rect x="772" y="394.6" width="18" height="18"/><rect x="772" y="418.9" width="18" height="18"/><rect x="772" y="428" width="18" height="18"/><rect x="772" y="433.1" width="18" height="18"/><rect x="772" y="468.1" width="18" height="18"/><rect x="793" y="274.7" width="18" height="18"/><rect x="793" y="357.3" width="18" height="18"/><rect x="793" y="384.9" width="18" height="18"/><rect x="793" y="436.1" width="18" height="18"/><rect x="814.1" y="260.9" width="18" height="18"/><rect x="814.1" y="268.5" width="18" height="18"/><rect x="814.1" y="277.9" width="18" height="18"/><rect x="814.1" y="283.5" width="18" height="18"/><rect x="814.1" y="364.1" width="18" height="18"/><rect x="814.1" y="431.1" width="18" height="18"/><rect x="814.1" y="461.2" width="18" height="18"/><rect x="835.2" y="350" width="18" height="18"/><rect x="835.2" y="405.2" width="18" height="18"/><rect x="856.2" y="319.1" width="18" height="18"/></g>
<g class="r"><path d="M696.7 544.4l11.7 12.2-11.7 12.2-11.7-12.2z"/><path d="M696.7 646.9l11.7 12.2-11.7 12.2-11.7-12.2z"/><path d="M717.7 416.1l11.7 12.2-11.7 12.2-11.7-12.2z"/><path d="M738.8 452.1l11.7 12.2-11.7 12.2-11.7-12.2z"/><path d="M738.8 538.8l11.7 12.2-11.7 12.2-11.7-12.2z"/><path d="M759.9 475.6l11.7 12.2-11.7 12.2-11.7-12.2z"/><path d="M759.9 479.8l11.7 12.2-11.7 12.2-11.7-12.2z"/><path d="M759.9 511.3l11.7 12.2-11.7 12.2-11.7-12.2z"/><path d="M759.9 517l11.7 12.2-11.7 12.2-11.7-12.2z"/><path d="M759.9 545.5l11.7 12.2-11.7 12.2-11.7-12.2z"/><path d="M781 481.8l11.7 12.2-11.7 12.2-11.7-12.2z"/><path d="M781 500.1l11.7 12.2-11.7 12.2-11.7-12.2z"/><path d="M781 554.1l11.7 12.2-11.7 12.2-11.7-12.2z"/><path d="M781 620l11.7 12.2-11.7 12.2-11.7-12.2z"/><path d="M781 652l11.7 12.2-11.7 12.2-11.7-12.2z"/><path d="M802 409.3l11.7 12.2-11.7 12.2-11.7-12.2z"/><path d="M802 439.1l11.7 12.2-11.7 12.2-11.7-12.2z"/><path d="M802 449.5l11.7 12.2-11.7 12.2-11.7-12.2z"/><path d="M802 459.2l12.6 12.4-12.6 12.4-12.6-12.4z"/><path d="M802 462l12.6 12.4-12.6 12.4-12.6-12.4z"/><path d="M802 466.9l12.6 12.4-12.6 12.4-12.6-12.4z"/><path d="M802 470.1l12.6 12.4-12.6 12.4-12.6-12.4z"/><path d="M802 473.9l12.6 12.4-12.6 12.4-12.6-12.4z"/><path d="M802 476.4l12.6 12.4-12.6 12.4-12.6-12.4z"/><path d="M802 479.3l12.6 12.4-12.6 12.4-12.6-12.4z"/><path d="M802 483.3l12.6 12.4-12.6 12.4-12.6-12.4z"/><path d="M802 488.2l12.6 12.4-12.6 12.4-12.6-12.4z"/><path d="M802 491.7l12.6 12.4-12.6 12.4-12.6-12.4z"/><path d="M802 495.2l12.6 12.4-12.6 12.4-12.6-12.4z"/><path d="M802 497.8l12.6 12.4-12.6 12.4-12.6-12.4z"/><path d="M802 500.6l12.6 12.4-12.6 12.4-12.6-12.4z"/><path d="M802 503.5l12.6 12.4-12.6 12.4-12.6-12.4z"/><path d="M802 506.7l12.6 12.4-12.6 12.4-12.6-12.4z"/><path d="M802 510.9l12.6 12.4-12.6 12.4-12.6-12.4z"/><path d="M802 514.5l12.6 12.4-12.6 12.4-12.6-12.4z"/><path d="M802 519.9l12.6 12.4-12.6 12.4-12.6-12.4z"/><path d="M802 523.2l12.6 12.4-12.6 12.4-12.6-12.4z"/><path d="M802 528.5l11.7 12.2-11.7 12.2-11.7-12.2z"/><path d="M802 539.6l11.7 12.2-11.7 12.2-11.7-12.2z"/><path d="M823.1 465.9l12.6 12.4-12.6 12.4-12.6-12.4z"/><path d="M823.1 475.9l12.6 12.4-12.6 12.4-12.6-12.4z"/><path d="M823.1 479.6l12.6 12.4-12.6 12.4-12.6-12.4z"/><path d="M823.1 483.7l12.6 12.4-12.6 12.4-12.6-12.4z"/><path d="M823.1 488.5l12.6 12.4-12.6 12.4-12.6-12.4z"/><path d="M823.1 491.5l12.6 12.4-12.6 12.4-12.6-12.4z"/><path d="M823.1 495.6l12.6 12.4-12.6 12.4-12.6-12.4z"/><path d="M823.1 499.8l12.6 12.4-12.6 12.4-12.6-12.4z"/><path d="M823.1 504.7l12.6 12.4-12.6 12.4-12.6-12.4z"/><path d="M823.1 507.7l12.6 12.4-12.6 12.4-12.6-12.4z"/><path d="M823.1 511.4l12.6 12.4-12.6 12.4-12.6-12.4z"/><path d="M823.1 514l12.6 12.4-12.6 12.4-12.6-12.4z"/><path d="M823.1 518.5l12.6 12.4-12.6 12.4-12.6-12.4z"/><path d="M823.1 523.6l12.6 12.4-12.6 12.4-12.6-12.4z"/><path d="M823.1 527.2l12.6 12.4-12.6 12.4-12.6-12.4z"/><path d="M823.1 532.3l11.7 12.2-11.7 12.2-11.7-12.2z"/><path d="M823.1 541.4l11.7 12.2-11.7 12.2-11.7-12.2z"/><path d="M823.1 545.7l11.7 12.2-11.7 12.2-11.7-12.2z"/><path d="M844.2 434.2l11.7 12.2-11.7 12.2-11.7-12.2z"/><path d="M844.2 470.1l12.6 12.4-12.6 12.4-12.6-12.4z"/><path d="M844.2 480.5l12.6 12.4-12.6 12.4-12.6-12.4z"/><path d="M844.2 483.4l12.6 12.4-12.6 12.4-12.6-12.4z"/><path d="M844.2 487.6l12.6 12.4-12.6 12.4-12.6-12.4z"/><path d="M844.2 490.2l12.6 12.4-12.6 12.4-12.6-12.4z"/><path d="M844.2 493.1l12.6 12.4-12.6 12.4-12.6-12.4z"/><path d="M844.2 498.4l12.6 12.4-12.6 12.4-12.6-12.4z"/><path d="M844.2 501.2l12.6 12.4-12.6 12.4-12.6-12.4z"/><path d="M844.2 504.2l12.6 12.4-12.6 12.4-12.6-12.4z"/><path d="M844.2 509.6l12.6 12.4-12.6 12.4-12.6-12.4z"/><path d="M844.2 513l12.6 12.4-12.6 12.4-12.6-12.4z"/><path d="M844.2 516.1l12.6 12.4-12.6 12.4-12.6-12.4z"/><path d="M844.2 518.9l12.6 12.4-12.6 12.4-12.6-12.4z"/><path d="M844.2 522.9l12.6 12.4-12.6 12.4-12.6-12.4z"/><path d="M844.2 525.6l12.6 12.4-12.6 12.4-12.6-12.4z"/><path d="M844.2 529l11.7 12.2-11.7 12.2-11.7-12.2z"/><path d="M844.2 535.3l11.7 12.2-11.7 12.2-11.7-12.2z"/><path d="M844.2 564.2l11.7 12.2-11.7 12.2-11.7-12.2z"/><path d="M844.2 573.3l11.7 12.2-11.7 12.2-11.7-12.2z"/><path d="M844.2 601.9l11.7 12.2-11.7 12.2-11.7-12.2z"/><path d="M865.2 436.7l11.7 12.2-11.7 12.2-11.7-12.2z"/><path d="M865.2 470.1l12.6 12.4-12.6 12.4-12.6-12.4z"/><path d="M865.2 478.7l12.6 12.4-12.6 12.4-12.6-12.4z"/><path d="M865.2 482.8l12.6 12.4-12.6 12.4-12.6-12.4z"/><path d="M865.2 485.6l12.6 12.4-12.6 12.4-12.6-12.4z"/><path d="M865.2 489.9l11.7 12.2-11.7 12.2-11.7-12.2z"/><path d="M865.2 503.5l11.7 12.2-11.7 12.2-11.7-12.2z"/><path d="M865.2 511.8l11.7 12.2-11.7 12.2-11.7-12.2z"/><path d="M865.2 516.9l11.7 12.2-11.7 12.2-11.7-12.2z"/><path d="M865.2 528.1l11.7 12.2-11.7 12.2-11.7-12.2z"/><path d="M865.2 530l11.7 12.2-11.7 12.2-11.7-12.2z"/><path d="M865.2 535.3l11.7 12.2-11.7 12.2-11.7-12.2z"/><path d="M865.2 540.7l11.7 12.2-11.7 12.2-11.7-12.2z"/><path d="M865.2 553.2l11.7 12.2-11.7 12.2-11.7-12.2z"/><path d="M865.2 577.1l11.7 12.2-11.7 12.2-11.7-12.2z"/><path d="M886.3 409l11.7 12.2-11.7 12.2-11.7-12.2z"/><path d="M886.3 439.1l11.7 12.2-11.7 12.2-11.7-12.2z"/><path d="M886.3 449l11.7 12.2-11.7 12.2-11.7-12.2z"/><path d="M886.3 458.2l12.6 12.4-12.6 12.4-12.6-12.4z"/><path d="M886.3 463.3l12.6 12.4-12.6 12.4-12.6-12.4z"/><path d="M886.3 466l12.6 12.4-12.6 12.4-12.6-12.4z"/><path d="M886.3 469.3l12.6 12.4-12.6 12.4-12.6-12.4z"/><path d="M886.3 472.6l12.6 12.4-12.6 12.4-12.6-12.4z"/><path d="M886.3 477.1l12.6 12.4-12.6 12.4-12.6-12.4z"/><path d="M886.3 480.8l12.6 12.4-12.6 12.4-12.6-12.4z"/><path d="M886.3 484.5l12.6 12.4-12.6 12.4-12.6-12.4z"/><path d="M886.3 488.7l11.7 12.2-11.7 12.2-11.7-12.2z"/><path d="M886.3 501.9l11.7 12.2-11.7 12.2-11.7-12.2z"/><path d="M886.3 512.3l11.7 12.2-11.7 12.2-11.7-12.2z"/><path d="M886.3 521.8l11.7 12.2-11.7 12.2-11.7-12.2z"/><path d="M886.3 535.3l11.7 12.2-11.7 12.2-11.7-12.2z"/><path d="M886.3 544.7l11.7 12.2-11.7 12.2-11.7-12.2z"/><path d="M886.3 562.1l11.7 12.2-11.7 12.2-11.7-12.2z"/><path d="M886.3 588.9l11.7 12.2-11.7 12.2-11.7-12.2z"/><path d="M907.4 470.1l12.6 12.4-12.6 12.4-12.6-12.4z"/><path d="M907.4 480.4l12.6 12.4-12.6 12.4-12.6-12.4z"/><path d="M907.4 482.9l12.6 12.4-12.6 12.4-12.6-12.4z"/><path d="M907.4 487.4l12.6 12.4-12.6 12.4-12.6-12.4z"/><path d="M907.4 490.9l11.7 12.2-11.7 12.2-11.7-12.2z"/><path d="M907.4 499.3l11.7 12.2-11.7 12.2-11.7-12.2z"/><path d="M907.4 521.8l11.7 12.2-11.7 12.2-11.7-12.2z"/><path d="M907.4 534l11.7 12.2-11.7 12.2-11.7-12.2z"/><path d="M907.4 559.2l11.7 12.2-11.7 12.2-11.7-12.2z"/><path d="M907.4 582.3l11.7 12.2-11.7 12.2-11.7-12.2z"/><path d="M928.4 400.3l11.7 12.2-11.7 12.2-11.7-12.2z"/><path d="M928.4 426.4l11.7 12.2-11.7 12.2-11.7-12.2z"/><path d="M928.4 466.8l12.6 12.4-12.6 12.4-12.6-12.4z"/><path d="M928.4 475.1l12.6 12.4-12.6 12.4-12.6-12.4z"/><path d="M928.4 477.6l12.6 12.4-12.6 12.4-12.6-12.4z"/><path d="M928.4 481.3l12.6 12.4-12.6 12.4-12.6-12.4z"/><path d="M928.4 486.5l12.6 12.4-12.6 12.4-12.6-12.4z"/><path d="M928.4 490.4l12.6 12.4-12.6 12.4-12.6-12.4z"/><path d="M928.4 493.7l12.6 12.4-12.6 12.4-12.6-12.4z"/><path d="M928.4 497.6l12.6 12.4-12.6 12.4-12.6-12.4z"/><path d="M928.4 502.5l12.6 12.4-12.6 12.4-12.6-12.4z"/><path d="M928.4 505.4l12.6 12.4-12.6 12.4-12.6-12.4z"/><path d="M928.4 616l11.7 12.2-11.7 12.2-11.7-12.2z"/><path d="M949.5 393.3l11.7 12.2-11.7 12.2-11.7-12.2z"/><path d="M949.5 436.7l12.6 12.4-12.6 12.4-12.6-12.4z"/><path d="M949.5 447.5l12.6 12.4-12.6 12.4-12.6-12.4z"/><path d="M949.5 451.2l12.6 12.4-12.6 12.4-12.6-12.4z"/><path d="M949.5 455.1l12.6 12.4-12.6 12.4-12.6-12.4z"/><path d="M949.5 458.5l12.6 12.4-12.6 12.4-12.6-12.4z"/><path d="M949.5 461.7l12.6 12.4-12.6 12.4-12.6-12.4z"/><path d="M949.5 466.8l12.6 12.4-12.6 12.4-12.6-12.4z"/><path d="M949.5 471.7l12.6 12.4-12.6 12.4-12.6-12.4z"/><path d="M949.5 475l12.6 12.4-12.6 12.4-12.6-12.4z"/><path d="M949.5 479.7l12.6 12.4-12.6 12.4-12.6-12.4z"/><path d="M949.5 484.9l12.6 12.4-12.6 12.4-12.6-12.4z"/><path d="M949.5 488.7l12.6 12.4-12.6 12.4-12.6-12.4z"/><path d="M949.5 494.1l12.6 12.4-12.6 12.4-12.6-12.4z"/><path d="M949.5 496.9l12.6 12.4-12.6 12.4-12.6-12.4z"/><path d="M949.5 501.9l12.6 12.4-12.6 12.4-12.6-12.4z"/><path d="M949.5 507.1l11.7 12.2-11.7 12.2-11.7-12.2z"/><path d="M949.5 517.5l11.7 12.2-11.7 12.2-11.7-12.2z"/><path d="M949.5 527.2l11.7 12.2-11.7 12.2-11.7-12.2z"/><path d="M949.5 538.8l11.7 12.2-11.7 12.2-11.7-12.2z"/><path d="M970.6 438.7l12.6 12.4-12.6 12.4-12.6-12.4z"/><path d="M970.6 448.6l12.6 12.4-12.6 12.4-12.6-12.4z"/><path d="M970.6 451.9l12.6 12.4-12.6 12.4-12.6-12.4z"/><path d="M970.6 454.7l12.6 12.4-12.6 12.4-12.6-12.4z"/><path d="M970.6 458l12.6 12.4-12.6 12.4-12.6-12.4z"/><path d="M970.6 462.8l12.6 12.4-12.6 12.4-12.6-12.4z"/><path d="M970.6 465.4l12.6 12.4-12.6 12.4-12.6-12.4z"/><path d="M970.6 469.5l12.6 12.4-12.6 12.4-12.6-12.4z"/><path d="M970.6 472.9l12.6 12.4-12.6 12.4-12.6-12.4z"/><path d="M970.6 476.3l12.6 12.4-12.6 12.4-12.6-12.4z"/><path d="M970.6 479.8l12.6 12.4-12.6 12.4-12.6-12.4z"/><path d="M970.6 484.1l12.6 12.4-12.6 12.4-12.6-12.4z"/><path d="M970.6 487.1l12.6 12.4-12.6 12.4-12.6-12.4z"/><path d="M970.6 490.1l12.6 12.4-12.6 12.4-12.6-12.4z"/><path d="M970.6 495.1l12.6 12.4-12.6 12.4-12.6-12.4z"/><path d="M970.6 499.9l12.6 12.4-12.6 12.4-12.6-12.4z"/><path d="M970.6 503.5l12.6 12.4-12.6 12.4-12.6-12.4z"/><path d="M970.6 506.9l11.7 12.2-11.7 12.2-11.7-12.2z"/><path d="M970.6 520.6l11.7 12.2-11.7 12.2-11.7-12.2z"/><path d="M970.6 529.6l11.7 12.2-11.7 12.2-11.7-12.2z"/><path d="M970.6 564.2l11.7 12.2-11.7 12.2-11.7-12.2z"/><path d="M970.6 629.9l11.7 12.2-11.7 12.2-11.7-12.2z"/><path d="M991.7 402.7l11.7 12.2-11.7 12.2-11.7-12.2z"/><path d="M991.7 412.9l11.7 12.2-11.7 12.2-11.7-12.2z"/><path d="M991.7 422l11.7 12.2-11.7 12.2-11.7-12.2z"/><path d="M991.7 435.4l11.7 12.2-11.7 12.2-11.7-12.2z"/><path d="M991.7 445l12.6 12.4-12.6 12.4-12.6-12.4z"/><path d="M991.7 448.4l12.6 12.4-12.6 12.4-12.6-12.4z"/><path d="M991.7 451.5l12.6 12.4-12.6 12.4-12.6-12.4z"/><path d="M991.7 456.5l12.6 12.4-12.6 12.4-12.6-12.4z"/><path d="M991.7 461.2l12.6 12.4-12.6 12.4-12.6-12.4z"/><path d="M991.7 464.6l12.6 12.4-12.6 12.4-12.6-12.4z"/><path d="M991.7 468l12.6 12.4-12.6 12.4-12.6-12.4z"/><path d="M991.7 470.9l12.6 12.4-12.6 12.4-12.6-12.4z"/><path d="M991.7 474.7l12.6 12.4-12.6 12.4-12.6-12.4z"/><path d="M991.7 480.1l12.6 12.4-12.6 12.4-12.6-12.4z"/><path d="M991.7 484.9l12.6 12.4-12.6 12.4-12.6-12.4z"/><path d="M991.7 490.2l12.6 12.4-12.6 12.4-12.6-12.4z"/><path d="M991.7 492.9l12.6 12.4-12.6 12.4-12.6-12.4z"/><path d="M991.7 498.2l12.6 12.4-12.6 12.4-12.6-12.4z"/><path d="M991.7 503.4l12.6 12.4-12.6 12.4-12.6-12.4z"/><path d="M991.7 508.6l11.7 12.2-11.7 12.2-11.7-12.2z"/><path d="M991.7 521.9l11.7 12.2-11.7 12.2-11.7-12.2z"/><path d="M991.7 534.6l11.7 12.2-11.7 12.2-11.7-12.2z"/><path d="M991.7 545.3l11.7 12.2-11.7 12.2-11.7-12.2z"/><path d="M991.7 547.7l11.7 12.2-11.7 12.2-11.7-12.2z"/><path d="M1012.7 394.7l11.7 12.2-11.7 12.2-11.7-12.2z"/><path d="M1012.7 402.8l11.7 12.2-11.7 12.2-11.7-12.2z"/><path d="M1012.7 413.2l11.7 12.2-11.7 12.2-11.7-12.2z"/><path d="M1012.7 423.8l11.7 12.2-11.7 12.2-11.7-12.2z"/><path d="M1012.7 436.8l12.6 12.4-12.6 12.4-12.6-12.4z"/><path d="M1012.7 440.7l12.6 12.4-12.6 12.4-12.6-12.4z"/><path d="M1012.7 443.6l12.6 12.4-12.6 12.4-12.6-12.4z"/><path d="M1012.7 448.6l12.6 12.4-12.6 12.4-12.6-12.4z"/><path d="M1012.7 453.1l12.6 12.4-12.6 12.4-12.6-12.4z"/><path d="M1012.7 457.3l12.6 12.4-12.6 12.4-12.6-12.4z"/><path d="M1012.7 462.5l12.6 12.4-12.6 12.4-12.6-12.4z"/><path d="M1012.7 466.2l12.6 12.4-12.6 12.4-12.6-12.4z"/><path d="M1012.7 469.8l12.6 12.4-12.6 12.4-12.6-12.4z"/><path d="M1012.7 472.5l12.6 12.4-12.6 12.4-12.6-12.4z"/><path d="M1012.7 477.1l12.6 12.4-12.6 12.4-12.6-12.4z"/><path d="M1012.7 481.5l12.6 12.4-12.6 12.4-12.6-12.4z"/><path d="M1012.7 486.8l12.6 12.4-12.6 12.4-12.6-12.4z"/><path d="M1012.7 489.3l12.6 12.4-12.6 12.4-12.6-12.4z"/><path d="M1012.7 493.1l12.6 12.4-12.6 12.4-12.6-12.4z"/><path d="M1012.7 496.9l12.6 12.4-12.6 12.4-12.6-12.4z"/><path d="M1012.7 500.6l12.6 12.4-12.6 12.4-12.6-12.4z"/><path d="M1012.7 503.3l12.6 12.4-12.6 12.4-12.6-12.4z"/><path d="M1012.7 508.4l11.7 12.2-11.7 12.2-11.7-12.2z"/><path d="M1012.7 516.5l11.7 12.2-11.7 12.2-11.7-12.2z"/><path d="M1012.7 565.6l11.7 12.2-11.7 12.2-11.7-12.2z"/><path d="M1012.7 591.9l11.7 12.2-11.7 12.2-11.7-12.2z"/><path d="M1033.8 403.8l11.7 12.2-11.7 12.2-11.7-12.2z"/><path d="M1033.8 414.3l11.7 12.2-11.7 12.2-11.7-12.2z"/><path d="M1033.8 425.8l11.7 12.2-11.7 12.2-11.7-12.2z"/><path d="M1033.8 437.7l12.6 12.4-12.6 12.4-12.6-12.4z"/><path d="M1033.8 441.8l12.6 12.4-12.6 12.4-12.6-12.4z"/><path d="M1033.8 446.3l12.6 12.4-12.6 12.4-12.6-12.4z"/><path d="M1033.8 449.1l12.6 12.4-12.6 12.4-12.6-12.4z"/><path d="M1033.8 453.5l12.6 12.4-12.6 12.4-12.6-12.4z"/><path d="M1033.8 458l12.6 12.4-12.6 12.4-12.6-12.4z"/><path d="M1033.8 460.7l12.6 12.4-12.6 12.4-12.6-12.4z"/><path d="M1033.8 466.1l12.6 12.4-12.6 12.4-12.6-12.4z"/><path d="M1033.8 471.1l12.6 12.4-12.6 12.4-12.6-12.4z"/><path d="M1033.8 476l12.6 12.4-12.6 12.4-12.6-12.4z"/><path d="M1033.8 480.9l12.6 12.4-12.6 12.4-12.6-12.4z"/><path d="M1033.8 484.9l12.6 12.4-12.6 12.4-12.6-12.4z"/><path d="M1033.8 490.1l12.6 12.4-12.6 12.4-12.6-12.4z"/><path d="M1033.8 493.1l12.6 12.4-12.6 12.4-12.6-12.4z"/><path d="M1033.8 497.8l12.6 12.4-12.6 12.4-12.6-12.4z"/><path d="M1033.8 503.3l12.6 12.4-12.6 12.4-12.6-12.4z"/><path d="M1033.8 506.1l11.7 12.2-11.7 12.2-11.7-12.2z"/><path d="M1033.8 514.5l11.7 12.2-11.7 12.2-11.7-12.2z"/><path d="M1033.8 545.5l11.7 12.2-11.7 12.2-11.7-12.2z"/><path d="M1033.8 605.4l11.7 12.2-11.7 12.2-11.7-12.2z"/><path d="M1033.8 630.9l11.7 12.2-11.7 12.2-11.7-12.2z"/><path d="M1054.9 392.7l11.7 12.2-11.7 12.2-11.7-12.2z"/><path d="M1054.9 403.4l11.7 12.2-11.7 12.2-11.7-12.2z"/><path d="M1054.9 413.4l11.7 12.2-11.7 12.2-11.7-12.2z"/><path d="M1054.9 426.4l11.7 12.2-11.7 12.2-11.7-12.2z"/><path d="M1054.9 438.5l12.6 12.4-12.6 12.4-12.6-12.4z"/><path d="M1054.9 441.1l12.6 12.4-12.6 12.4-12.6-12.4z"/><path d="M1054.9 446.1l12.6 12.4-12.6 12.4-12.6-12.4z"/><path d="M1054.9 449.5l12.6 12.4-12.6 12.4-12.6-12.4z"/><path d="M1054.9 453.7l12.6 12.4-12.6 12.4-12.6-12.4z"/><path d="M1054.9 458.3l12.6 12.4-12.6 12.4-12.6-12.4z"/><path d="M1054.9 463.8l12.6 12.4-12.6 12.4-12.6-12.4z"/><path d="M1054.9 467.9l12.6 12.4-12.6 12.4-12.6-12.4z"/><path d="M1054.9 470.8l12.6 12.4-12.6 12.4-12.6-12.4z"/><path d="M1054.9 474.9l12.6 12.4-12.6 12.4-12.6-12.4z"/><path d="M1054.9 479l12.6 12.4-12.6 12.4-12.6-12.4z"/><path d="M1054.9 483.8l12.6 12.4-12.6 12.4-12.6-12.4z"/><path d="M1054.9 486.9l12.6 12.4-12.6 12.4-12.6-12.4z"/><path d="M1054.9 491l12.6 12.4-12.6 12.4-12.6-12.4z"/><path d="M1054.9 493.7l12.6 12.4-12.6 12.4-12.6-12.4z"/><path d="M1054.9 499.1l12.6 12.4-12.6 12.4-12.6-12.4z"/><path d="M1054.9 501.7l12.6 12.4-12.6 12.4-12.6-12.4z"/><path d="M1054.9 506l11.7 12.2-11.7 12.2-11.7-12.2z"/><path d="M1054.9 516.4l11.7 12.2-11.7 12.2-11.7-12.2z"/><path d="M1054.9 526.7l11.7 12.2-11.7 12.2-11.7-12.2z"/><path d="M1054.9 531.6l11.7 12.2-11.7 12.2-11.7-12.2z"/><path d="M1054.9 583.7l11.7 12.2-11.7 12.2-11.7-12.2z"/><path d="M1054.9 675.7l11.7 12.2-11.7 12.2-11.7-12.2z"/><path d="M1075.9 418.8l11.7 12.2-11.7 12.2-11.7-12.2z"/><path d="M1075.9 427.4l11.7 12.2-11.7 12.2-11.7-12.2z"/><path d="M1075.9 436.5l12.6 12.4-12.6 12.4-12.6-12.4z"/><path d="M1075.9 441.7l12.6 12.4-12.6 12.4-12.6-12.4z"/><path d="M1075.9 446.6l12.6 12.4-12.6 12.4-12.6-12.4z"/><path d="M1075.9 451.5l12.6 12.4-12.6 12.4-12.6-12.4z"/><path d="M1075.9 454.5l12.6 12.4-12.6 12.4-12.6-12.4z"/><path d="M1075.9 458.3l12.6 12.4-12.6 12.4-12.6-12.4z"/><path d="M1075.9 462.8l12.6 12.4-12.6 12.4-12.6-12.4z"/><path d="M1075.9 466.9l12.6 12.4-12.6 12.4-12.6-12.4z"/><path d="M1075.9 471.6l12.6 12.4-12.6 12.4-12.6-12.4z"/><path d="M1075.9 474.7l12.6 12.4-12.6 12.4-12.6-12.4z"/><path d="M1075.9 479.9l12.6 12.4-12.6 12.4-12.6-12.4z"/><path d="M1075.9 484.2l12.6 12.4-12.6 12.4-12.6-12.4z"/><path d="M1075.9 488.5l12.6 12.4-12.6 12.4-12.6-12.4z"/><path d="M1075.9 492.8l12.6 12.4-12.6 12.4-12.6-12.4z"/><path d="M1075.9 496.6l12.6 12.4-12.6 12.4-12.6-12.4z"/><path d="M1075.9 499.2l12.6 12.4-12.6 12.4-12.6-12.4z"/><path d="M1075.9 502.1l12.6 12.4-12.6 12.4-12.6-12.4z"/><path d="M1075.9 506.3l11.7 12.2-11.7 12.2-11.7-12.2z"/><path d="M1075.9 518.3l11.7 12.2-11.7 12.2-11.7-12.2z"/><path d="M1075.9 530.7l11.7 12.2-11.7 12.2-11.7-12.2z"/><path d="M1075.9 537.6l11.7 12.2-11.7 12.2-11.7-12.2z"/><path d="M1075.9 560.2l11.7 12.2-11.7 12.2-11.7-12.2z"/><path d="M1075.9 577.2l11.7 12.2-11.7 12.2-11.7-12.2z"/><path d="M1097 430.9l11.7 12.2-11.7 12.2-11.7-12.2z"/><path d="M1097 440.7l12.6 12.4-12.6 12.4-12.6-12.4z"/><path d="M1097 445.6l12.6 12.4-12.6 12.4-12.6-12.4z"/><path d="M1097 448.8l12.6 12.4-12.6 12.4-12.6-12.4z"/><path d="M1097 451.4l12.6 12.4-12.6 12.4-12.6-12.4z"/><path d="M1097 456.5l12.6 12.4-12.6 12.4-12.6-12.4z"/><path d="M1097 461.2l12.6 12.4-12.6 12.4-12.6-12.4z"/><path d="M1097 466l12.6 12.4-12.6 12.4-12.6-12.4z"/><path d="M1097 470.9l12.6 12.4-12.6 12.4-12.6-12.4z"/><path d="M1097 474.7l12.6 12.4-12.6 12.4-12.6-12.4z"/><path d="M1097 480l12.6 12.4-12.6 12.4-12.6-12.4z"/><path d="M1097 484.9l12.6 12.4-12.6 12.4-12.6-12.4z"/><path d="M1097 489.7l12.6 12.4-12.6 12.4-12.6-12.4z"/><path d="M1097 495l12.6 12.4-12.6 12.4-12.6-12.4z"/><path d="M1097 500.3l12.6 12.4-12.6 12.4-12.6-12.4z"/><path d="M1097 504.5l12.6 12.4-12.6 12.4-12.6-12.4z"/><path d="M1097 507.3l11.7 12.2-11.7 12.2-11.7-12.2z"/><path d="M1097 518.8l11.7 12.2-11.7 12.2-11.7-12.2z"/><path d="M1097 529.4l11.7 12.2-11.7 12.2-11.7-12.2z"/><path d="M1097 531.6l11.7 12.2-11.7 12.2-11.7-12.2z"/><path d="M1118.1 425.8l11.7 12.2-11.7 12.2-11.7-12.2z"/><path d="M1118.1 434.4l11.7 12.2-11.7 12.2-11.7-12.2z"/><path d="M1118.1 443.4l12.6 12.4-12.6 12.4-12.6-12.4z"/><path d="M1118.1 448.5l12.6 12.4-12.6 12.4-12.6-12.4z"/><path d="M1118.1 451.9l12.6 12.4-12.6 12.4-12.6-12.4z"/><path d="M1118.1 457.3l12.6 12.4-12.6 12.4-12.6-12.4z"/><path d="M1118.1 460l12.6 12.4-12.6 12.4-12.6-12.4z"/><path d="M1118.1 464.7l12.6 12.4-12.6 12.4-12.6-12.4z"/><path d="M1118.1 467.5l12.6 12.4-12.6 12.4-12.6-12.4z"/><path d="M1118.1 472.6l12.6 12.4-12.6 12.4-12.6-12.4z"/><path d="M1118.1 477.6l12.6 12.4-12.6 12.4-12.6-12.4z"/><path d="M1118.1 481.6l12.6 12.4-12.6 12.4-12.6-12.4z"/><path d="M1118.1 485.8l12.6 12.4-12.6 12.4-12.6-12.4z"/><path d="M1118.1 488.9l12.6 12.4-12.6 12.4-12.6-12.4z"/><path d="M1118.1 492.5l12.6 12.4-12.6 12.4-12.6-12.4z"/><path d="M1118.1 495.5l12.6 12.4-12.6 12.4-12.6-12.4z"/><path d="M1118.1 499.2l12.6 12.4-12.6 12.4-12.6-12.4z"/><path d="M1118.1 503.3l12.6 12.4-12.6 12.4-12.6-12.4z"/><path d="M1118.1 640.1l11.7 12.2-11.7 12.2-11.7-12.2z"/><path d="M1139.1 410.8l11.7 12.2-11.7 12.2-11.7-12.2z"/><path d="M1139.1 419.8l11.7 12.2-11.7 12.2-11.7-12.2z"/><path d="M1139.1 433.6l11.7 12.2-11.7 12.2-11.7-12.2z"/><path d="M1139.1 447.3l12.6 12.4-12.6 12.4-12.6-12.4z"/><path d="M1139.1 450.9l12.6 12.4-12.6 12.4-12.6-12.4z"/><path d="M1139.1 453.6l12.6 12.4-12.6 12.4-12.6-12.4z"/><path d="M1139.1 456.6l12.6 12.4-12.6 12.4-12.6-12.4z"/><path d="M1139.1 461.7l12.6 12.4-12.6 12.4-12.6-12.4z"/><path d="M1139.1 465.3l12.6 12.4-12.6 12.4-12.6-12.4z"/><path d="M1139.1 468.2l12.6 12.4-12.6 12.4-12.6-12.4z"/><path d="M1139.1 473.6l12.6 12.4-12.6 12.4-12.6-12.4z"/><path d="M1139.1 476.7l12.6 12.4-12.6 12.4-12.6-12.4z"/><path d="M1139.1 480.9l12.6 12.4-12.6 12.4-12.6-12.4z"/><path d="M1139.1 484.7l12.6 12.4-12.6 12.4-12.6-12.4z"/><path d="M1139.1 487.6l12.6 12.4-12.6 12.4-12.6-12.4z"/><path d="M1139.1 491.2l12.6 12.4-12.6 12.4-12.6-12.4z"/><path d="M1139.1 496.1l12.6 12.4-12.6 12.4-12.6-12.4z"/><path d="M1139.1 500.2l12.6 12.4-12.6 12.4-12.6-12.4z"/><path d="M1139.1 505.3l12.6 12.4-12.6 12.4-12.6-12.4z"/><path d="M1139.1 558.2l11.7 12.2-11.7 12.2-11.7-12.2z"/><path d="M1139.1 587.9l11.7 12.2-11.7 12.2-11.7-12.2z"/><path d="M1139.1 612l11.7 12.2-11.7 12.2-11.7-12.2z"/><path d="M1160.2 404.8l11.7 12.2-11.7 12.2-11.7-12.2z"/><path d="M1160.2 446.7l12.6 12.4-12.6 12.4-12.6-12.4z"/><path d="M1160.2 455.1l12.6 12.4-12.6 12.4-12.6-12.4z"/><path d="M1160.2 458.9l12.6 12.4-12.6 12.4-12.6-12.4z"/><path d="M1160.2 463.3l12.6 12.4-12.6 12.4-12.6-12.4z"/><path d="M1160.2 467l12.6 12.4-12.6 12.4-12.6-12.4z"/><path d="M1160.2 470.4l12.6 12.4-12.6 12.4-12.6-12.4z"/><path d="M1160.2 475.3l12.6 12.4-12.6 12.4-12.6-12.4z"/><path d="M1160.2 480.4l12.6 12.4-12.6 12.4-12.6-12.4z"/><path d="M1160.2 484.8l12.6 12.4-12.6 12.4-12.6-12.4z"/><path d="M1160.2 487.7l12.6 12.4-12.6 12.4-12.6-12.4z"/><path d="M1160.2 492.4l12.6 12.4-12.6 12.4-12.6-12.4z"/><path d="M1160.2 496.7l12.6 12.4-12.6 12.4-12.6-12.4z"/><path d="M1160.2 501.4l12.6 12.4-12.6 12.4-12.6-12.4z"/><path d="M1160.2 506.4l11.7 12.2-11.7 12.2-11.7-12.2z"/><path d="M1160.2 514.5l11.7 12.2-11.7 12.2-11.7-12.2z"/><path d="M1160.2 575.8l11.7 12.2-11.7 12.2-11.7-12.2z"/><path d="M1181.3 396.7l11.7 12.2-11.7 12.2-11.7-12.2z"/><path d="M1181.3 407.6l11.7 12.2-11.7 12.2-11.7-12.2z"/><path d="M1181.3 417.6l11.7 12.2-11.7 12.2-11.7-12.2z"/><path d="M1181.3 430l11.7 12.2-11.7 12.2-11.7-12.2z"/><path d="M1181.3 440.2l11.7 12.2-11.7 12.2-11.7-12.2z"/><path d="M1181.3 452l11.7 12.2-11.7 12.2-11.7-12.2z"/><path d="M1181.3 463.7l11.7 12.2-11.7 12.2-11.7-12.2z"/><path d="M1181.3 475.6l11.7 12.2-11.7 12.2-11.7-12.2z"/><path d="M1181.3 488.5l11.7 12.2-11.7 12.2-11.7-12.2z"/><path d="M1181.3 499.6l11.7 12.2-11.7 12.2-11.7-12.2z"/><path d="M1181.3 505.5l11.7 12.2-11.7 12.2-11.7-12.2z"/><path d="M1181.3 585.7l11.7 12.2-11.7 12.2-11.7-12.2z"/><path d="M1202.3 442.9l11.7 12.2-11.7 12.2-11.7-12.2z"/><path d="M1202.3 451.6l11.7 12.2-11.7 12.2-11.7-12.2z"/><path d="M1202.3 465.2l11.7 12.2-11.7 12.2-11.7-12.2z"/><path d="M1202.3 475.4l11.7 12.2-11.7 12.2-11.7-12.2z"/><path d="M1202.3 489.3l11.7 12.2-11.7 12.2-11.7-12.2z"/><path d="M1202.3 502.4l11.7 12.2-11.7 12.2-11.7-12.2z"/><path d="M1202.3 514.5l11.7 12.2-11.7 12.2-11.7-12.2z"/><path d="M1223.4 425.8l11.7 12.2-11.7 12.2-11.7-12.2z"/><path d="M1223.4 434.5l11.7 12.2-11.7 12.2-11.7-12.2z"/><path d="M1223.4 445.7l11.7 12.2-11.7 12.2-11.7-12.2z"/><path d="M1223.4 456.5l11.7 12.2-11.7 12.2-11.7-12.2z"/><path d="M1223.4 470.5l11.7 12.2-11.7 12.2-11.7-12.2z"/><path d="M1223.4 480.9l11.7 12.2-11.7 12.2-11.7-12.2z"/><path d="M1223.4 493.8l11.7 12.2-11.7 12.2-11.7-12.2z"/><path d="M1223.4 503.7l11.7 12.2-11.7 12.2-11.7-12.2z"/><path d="M1223.4 514.4l11.7 12.2-11.7 12.2-11.7-12.2z"/><path d="M1223.4 519.5l11.7 12.2-11.7 12.2-11.7-12.2z"/><path d="M1223.4 543.1l11.7 12.2-11.7 12.2-11.7-12.2z"/><path d="M1223.4 623.4l11.7 12.2-11.7 12.2-11.7-12.2z"/><path d="M1244.5 416.8l11.7 12.2-11.7 12.2-11.7-12.2z"/><path d="M1244.5 424.9l11.7 12.2-11.7 12.2-11.7-12.2z"/><path d="M1244.5 438l11.7 12.2-11.7 12.2-11.7-12.2z"/><path d="M1244.5 447.8l11.7 12.2-11.7 12.2-11.7-12.2z"/><path d="M1244.5 457.3l11.7 12.2-11.7 12.2-11.7-12.2z"/><path d="M1244.5 460.1l11.7 12.2-11.7 12.2-11.7-12.2z"/><path d="M1244.5 538.1l11.7 12.2-11.7 12.2-11.7-12.2z"/><path d="M1244.5 560.2l11.7 12.2-11.7 12.2-11.7-12.2z"/><path d="M1265.6 436.9l11.7 12.2-11.7 12.2-11.7-12.2z"/><path d="M1265.6 446.5l11.7 12.2-11.7 12.2-11.7-12.2z"/><path d="M1265.6 460.2l11.7 12.2-11.7 12.2-11.7-12.2z"/><path d="M1265.6 472.8l11.7 12.2-11.7 12.2-11.7-12.2z"/><path d="M1265.6 485.4l11.7 12.2-11.7 12.2-11.7-12.2z"/><path d="M1265.6 496.2l11.7 12.2-11.7 12.2-11.7-12.2z"/><path d="M1265.6 509.2l11.7 12.2-11.7 12.2-11.7-12.2z"/><path d="M1265.6 511.5l11.7 12.2-11.7 12.2-11.7-12.2z"/><path d="M1265.6 534l11.7 12.2-11.7 12.2-11.7-12.2z"/><path d="M1286.6 435.4l11.7 12.2-11.7 12.2-11.7-12.2z"/><path d="M1286.6 440.3l11.7 12.2-11.7 12.2-11.7-12.2z"/><path d="M1286.6 449.7l11.7 12.2-11.7 12.2-11.7-12.2z"/><path d="M1286.6 460.5l11.7 12.2-11.7 12.2-11.7-12.2z"/><path d="M1286.6 473.4l11.7 12.2-11.7 12.2-11.7-12.2z"/><path d="M1286.6 484.5l11.7 12.2-11.7 12.2-11.7-12.2z"/><path d="M1286.6 497.3l11.7 12.2-11.7 12.2-11.7-12.2z"/><path d="M1286.6 507.7l11.7 12.2-11.7 12.2-11.7-12.2z"/><path d="M1286.6 519.8l11.7 12.2-11.7 12.2-11.7-12.2z"/><path d="M1286.6 554.2l11.7 12.2-11.7 12.2-11.7-12.2z"/><path d="M1307.7 420.8l11.7 12.2-11.7 12.2-11.7-12.2z"/><path d="M1307.7 429l11.7 12.2-11.7 12.2-11.7-12.2z"/><path d="M1307.7 438.5l11.7 12.2-11.7 12.2-11.7-12.2z"/><path d="M1307.7 449.1l11.7 12.2-11.7 12.2-11.7-12.2z"/><path d="M1307.7 462.8l11.7 12.2-11.7 12.2-11.7-12.2z"/><path d="M1307.7 473.1l11.7 12.2-11.7 12.2-11.7-12.2z"/><path d="M1307.7 484.5l11.7 12.2-11.7 12.2-11.7-12.2z"/><path d="M1307.7 495.8l11.7 12.2-11.7 12.2-11.7-12.2z"/><path d="M1307.7 499.3l11.7 12.2-11.7 12.2-11.7-12.2z"/><path d="M1307.7 514.1l11.7 12.2-11.7 12.2-11.7-12.2z"/><path d="M1307.7 561l11.7 12.2-11.7 12.2-11.7-12.2z"/><path d="M1328.8 443.9l11.7 12.2-11.7 12.2-11.7-12.2z"/><path d="M1328.8 454.9l11.7 12.2-11.7 12.2-11.7-12.2z"/><path d="M1328.8 465.6l11.7 12.2-11.7 12.2-11.7-12.2z"/><path d="M1328.8 475.8l11.7 12.2-11.7 12.2-11.7-12.2z"/><path d="M1328.8 486.6l11.7 12.2-11.7 12.2-11.7-12.2z"/><path d="M1349.8 461l11.7 12.2-11.7 12.2-11.7-12.2z"/><path d="M1349.8 511.8l11.7 12.2-11.7 12.2-11.7-12.2z"/><path d="M1370.9 429.9l11.7 12.2-11.7 12.2-11.7-12.2z"/><path d="M1370.9 467l11.7 12.2-11.7 12.2-11.7-12.2z"/><path d="M1370.9 477.6l11.7 12.2-11.7 12.2-11.7-12.2z"/><path d="M1370.9 487l11.7 12.2-11.7 12.2-11.7-12.2z"/><path d="M1370.9 496.4l11.7 12.2-11.7 12.2-11.7-12.2z"/><path d="M1370.9 500.7l11.7 12.2-11.7 12.2-11.7-12.2z"/><path d="M1392 434.8l11.7 12.2-11.7 12.2-11.7-12.2z"/><path d="M1392 440.3l11.7 12.2-11.7 12.2-11.7-12.2z"/><path d="M1392 448.6l11.7 12.2-11.7 12.2-11.7-12.2z"/><path d="M1392 450.5l11.7 12.2-11.7 12.2-11.7-12.2z"/><path d="M1392 461l11.7 12.2-11.7 12.2-11.7-12.2z"/><path d="M1392 474.5l11.7 12.2-11.7 12.2-11.7-12.2z"/><path d="M1392 488.2l11.7 12.2-11.7 12.2-11.7-12.2z"/><path d="M1413 474.3l11.7 12.2-11.7 12.2-11.7-12.2z"/><path d="M1413 516.1l11.7 12.2-11.7 12.2-11.7-12.2z"/><path d="M1434.1 444.7l11.7 12.2-11.7 12.2-11.7-12.2z"/><path d="M1434.1 465.8l11.7 12.2-11.7 12.2-11.7-12.2z"/><path d="M1434.1 509l11.7 12.2-11.7 12.2-11.7-12.2z"/><path d="M1455.2 501l11.7 12.2-11.7 12.2-11.7-12.2z"/><path d="M1476.3 455.2l11.7 12.2-11.7 12.2-11.7-12.2z"/><path d="M1476.3 487.4l11.7 12.2-11.7 12.2-11.7-12.2z"/><path d="M1476.3 587.1l11.7 12.2-11.7 12.2-11.7-12.2z"/><path d="M1476.3 631.1l11.7 12.2-11.7 12.2-11.7-12.2z"/><path d="M1497.3 478.3l11.7 12.2-11.7 12.2-11.7-12.2z"/><path d="M1497.3 506.7l11.7 12.2-11.7 12.2-11.7-12.2z"/><path d="M1518.4 438.7l12.6 12.4-12.6 12.4-12.6-12.4z"/><path d="M1518.4 448.1l12.6 12.4-12.6 12.4-12.6-12.4z"/><path d="M1518.4 452.2l12.6 12.4-12.6 12.4-12.6-12.4z"/><path d="M1518.4 455.9l12.6 12.4-12.6 12.4-12.6-12.4z"/><path d="M1518.4 459.8l12.6 12.4-12.6 12.4-12.6-12.4z"/><path d="M1518.4 463.7l12.6 12.4-12.6 12.4-12.6-12.4z"/><path d="M1518.4 467.8l12.6 12.4-12.6 12.4-12.6-12.4z"/><path d="M1518.4 470.4l12.6 12.4-12.6 12.4-12.6-12.4z"/><path d="M1518.4 473.4l12.6 12.4-12.6 12.4-12.6-12.4z"/><path d="M1518.4 478.2l12.6 12.4-12.6 12.4-12.6-12.4z"/><path d="M1518.4 483.3l12.6 12.4-12.6 12.4-12.6-12.4z"/><path d="M1518.4 486.4l12.6 12.4-12.6 12.4-12.6-12.4z"/><path d="M1518.4 489.2l12.6 12.4-12.6 12.4-12.6-12.4z"/><path d="M1518.4 492.4l12.6 12.4-12.6 12.4-12.6-12.4z"/><path d="M1518.4 497.6l12.6 12.4-12.6 12.4-12.6-12.4z"/><path d="M1518.4 501.4l12.6 12.4-12.6 12.4-12.6-12.4z"/><path d="M1518.4 506.8l12.6 12.4-12.6 12.4-12.6-12.4z"/><path d="M1518.4 510.8l12.6 12.4-12.6 12.4-12.6-12.4z"/><path d="M1518.4 513.7l12.6 12.4-12.6 12.4-12.6-12.4z"/><path d="M1518.4 517.5l12.6 12.4-12.6 12.4-12.6-12.4z"/></g>
<g>
<rect x="181.8" y="1" width="2.5" height="969.4" fill="#2a2a2a"/><rect x="184.3" y="3" width="2.1" height="965" fill="#777"/>
<rect x="181.8" y="966.2" width="1407.4" height="4.2" fill="#4a4a4a"/>
<rect x="181.8" y="1.1" width="1407.4" height="2.4" fill="#0a0a0a"/>
<rect x="1587" y="1.1" width="2.2" height="969" fill="#333"/><rect x="1589.2" y="3" width="2.4" height="966" fill="#ccc"/>
<rect x="158.2" y="917.9" width="24" height="2.2" fill="#777"/><rect x="158.2" y="920.1" width="24" height="2.4" fill="#2a2a2a"/>
<text class="tk" x="148.5" y="933.9" text-anchor="end">400</text>
<rect x="158.2" y="743.9" width="24" height="2.2" fill="#777"/><rect x="158.2" y="746.1" width="24" height="2.4" fill="#2a2a2a"/>
<text class="tk" x="148.5" y="759.9" text-anchor="end">600</text>
<rect x="158.2" y="569.9" width="24" height="2.2" fill="#777"/><rect x="158.2" y="572.1" width="24" height="2.4" fill="#2a2a2a"/>
<text class="tk" x="148.5" y="585.9" text-anchor="end">800</text>
<rect x="158.2" y="395.9" width="24" height="2.2" fill="#777"/><rect x="158.2" y="398.1" width="24" height="2.4" fill="#2a2a2a"/>
<text class="tk" x="148.5" y="411.9" text-anchor="end">1000</text>
<rect x="158.2" y="221.9" width="24" height="2.2" fill="#777"/><rect x="158.2" y="224.1" width="24" height="2.4" fill="#2a2a2a"/>
<text class="tk" x="148.5" y="237.9" text-anchor="end">1200</text>
<rect x="158.2" y="47.9" width="24" height="2.2" fill="#777"/><rect x="158.2" y="50.1" width="24" height="2.4" fill="#2a2a2a"/>
<text class="tk" x="148.5" y="63.9" text-anchor="end">1400</text>
<rect x="252.6" y="970" width="2.2" height="23.5" fill="#2a2a2a"/><rect x="254.8" y="970" width="2" height="23.5" fill="#777"/>
<text class="tk" x="252.7" y="1039" text-anchor="middle">0</text>
<rect x="463.3" y="970" width="2.2" height="23.5" fill="#2a2a2a"/><rect x="465.5" y="970" width="2" height="23.5" fill="#777"/>
<text class="tk" x="463.4" y="1039" text-anchor="middle">10</text>
<rect x="674" y="970" width="2.2" height="23.5" fill="#2a2a2a"/><rect x="676.2" y="970" width="2" height="23.5" fill="#777"/>
<text class="tk" x="674.1" y="1039" text-anchor="middle">20</text>
<rect x="884.7" y="970" width="2.2" height="23.5" fill="#2a2a2a"/><rect x="886.9" y="970" width="2" height="23.5" fill="#777"/>
<text class="tk" x="884.8" y="1039" text-anchor="middle">30</text>
<rect x="1095.4" y="970" width="2.2" height="23.5" fill="#2a2a2a"/><rect x="1097.6" y="970" width="2" height="23.5" fill="#777"/>
<text class="tk" x="1095.5" y="1039" text-anchor="middle">40</text>
<rect x="1306.1" y="970" width="2.2" height="23.5" fill="#2a2a2a"/><rect x="1308.3" y="970" width="2" height="23.5" fill="#777"/>
<text class="tk" x="1306.2" y="1039" text-anchor="middle">50</text>
<rect x="1516.8" y="970" width="2.2" height="23.5" fill="#2a2a2a"/><rect x="1519" y="970" width="2" height="23.5" fill="#777"/>
<text class="tk" x="1516.9" y="1039" text-anchor="middle">60</text>
</g>
<text class="ax" x="887" y="1105" text-anchor="middle">Segmental T2* values (ms)</text>
<text class="ax" transform="translate(34.5 495) rotate(-90)" text-anchor="middle">Segmental T1 values (ms)</text>
<path d="M1011.6 750.6H1523.8C1539.3 750.6 1554.8 766.1 1554.8 781.6V924.4C1554.8 939.9 1539.3 955.4 1523.8 955.4H1011.6C996.1 955.4 980.6 939.9 980.6 924.4V781.6C980.6 766.1 996.1 750.6 1011.6 750.6Z" fill="#fff" stroke="#000" stroke-width="7"/>
<g class="g"><circle cx="1008.2" cy="778.8" r="8.3"/></g><g class="k"><path d="M1002.2 816.2h12v4.2l-3.5 2.6v6l3.5 2.6v4.2h-12v-4.2l3.5-2.6v-6l-3.5-2.6zM1006.9 819.9h2.6l-1.3 2.2zM1006.9 832.1h2.6l-1.3-2.2z"/></g><g class="y"><rect x="999.2" y="864.6" width="18" height="18"/></g><g class="r"><path d="M1008.2 908.2l11.7 12.2-11.7 12.2-11.7-12.2z"/></g>
<text class="lg" x="1031" y="795.9">T2* normal, T1 normal</text>
<text class="lg" x="1031" y="843.2">T2* pathologic, T1 pathologic</text>
<text class="lg" x="1031" y="890.6">T2* pathologic, T1 normal</text>
<text class="lg" x="1031" y="937.9">T2* normal, T1 pathologic</text>
</svg></body></html>
